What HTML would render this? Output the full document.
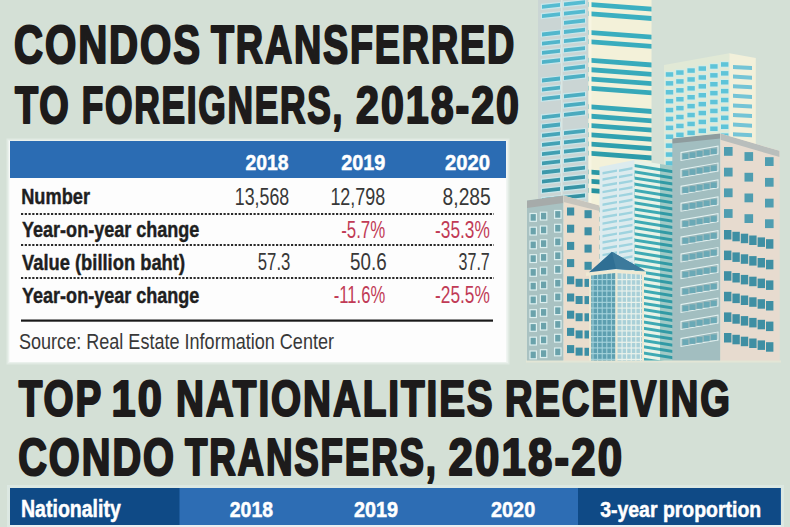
<!DOCTYPE html>
<html><head><meta charset="utf-8">
<style>
html,body{margin:0;padding:0;width:790px;height:527px;overflow:hidden;background:#d4e0d6;}
svg{display:block;}
text{font-family:"Liberation Sans",sans-serif;}
</style></head>
<body>
<svg width="790" height="527" viewBox="0 0 790 527">
<rect x="0" y="0" width="790" height="527" fill="#d4e0d6"/>
<defs><linearGradient id="gA" gradientUnits="userSpaceOnUse" x1="0" y1="0" x2="0" y2="220"><stop offset="0" stop-color="#55bcd2"/><stop offset="0.55" stop-color="#4aa9bd"/><stop offset="1" stop-color="#2f8a9a"/></linearGradient><linearGradient id="gAR" gradientUnits="userSpaceOnUse" x1="0" y1="0" x2="0" y2="200"><stop offset="0" stop-color="#3cb0c2"/><stop offset="0.6" stop-color="#35a6b6"/><stop offset="1" stop-color="#23909c"/></linearGradient><clipPath id="c1"><polygon points="538.0,-5.0 588.5,-5.0 588.5,362.0 538.0,362.0"/></clipPath><clipPath id="c2"><polygon points="588.5,-5.0 651.5,-5.0 651.5,362.0 588.5,362.0"/></clipPath><clipPath id="c3"><polygon points="664.0,65.0 729.3,53.3 729.3,362.0 664.0,362.0"/></clipPath><clipPath id="c4"><polygon points="729.3,53.3 755.8,58.0 755.8,362.0 729.3,362.0"/></clipPath><clipPath id="c5"><polygon points="599.5,167.0 634.6,160.0 634.6,362.0 599.5,362.0"/></clipPath><clipPath id="c6"><polygon points="634.6,160.0 673.0,166.0 673.0,362.0 634.6,362.0"/></clipPath><clipPath id="c7"><polygon points="672.3,138.5 720.4,133.6 720.4,361.5 672.3,361.5"/></clipPath><clipPath id="c8"><polygon points="720.4,133.6 779.6,150.8 779.6,361.5 720.4,361.5"/></clipPath><clipPath id="c9"><polygon points="527.0,200.6 563.5,195.5 563.5,361.5 527.0,361.5"/></clipPath><clipPath id="c10"><polygon points="563.5,195.5 599.5,205.4 599.5,361.5 563.5,361.5"/></clipPath><clipPath id="c11"><polygon points="589.0,274.5 615.5,272.0 615.5,361.0 589.0,361.0"/></clipPath><clipPath id="c12"><polygon points="615.5,272.0 644.0,274.0 644.0,361.0 615.5,361.0"/></clipPath></defs><polygon points="538.0,-5.0 588.5,-5.0 588.5,362.0 538.0,362.0" fill="#cad5d4"/>
<g clip-path="url(#c1)"><polygon points="540.8,3.8 561.2,1.8 561.2,8.0 540.8,10.0" fill="#c8e6ea"/><polygon points="542.0,5.0 560.0,3.0 560.0,6.8 542.0,8.8" fill="url(#gA)"/><polygon points="540.8,13.0 561.2,11.0 561.2,17.2 540.8,19.2" fill="#c8e6ea"/><polygon points="542.0,14.2 560.0,12.2 560.0,16.0 542.0,18.0" fill="url(#gA)"/><polygon points="540.8,31.4 561.2,29.4 561.2,35.6 540.8,37.6" fill="#c8e6ea"/><polygon points="542.0,32.6 560.0,30.6 560.0,34.4 542.0,36.4" fill="url(#gA)"/><polygon points="540.8,40.6 561.2,38.6 561.2,44.8 540.8,46.8" fill="#c8e6ea"/><polygon points="542.0,41.8 560.0,39.8 560.0,43.6 542.0,45.6" fill="url(#gA)"/><polygon points="540.8,49.8 561.2,47.8 561.2,54.0 540.8,56.0" fill="#c8e6ea"/><polygon points="542.0,51.0 560.0,49.0 560.0,52.8 542.0,54.8" fill="url(#gA)"/><polygon points="540.8,59.0 561.2,57.0 561.2,63.2 540.8,65.2" fill="#c8e6ea"/><polygon points="542.0,60.2 560.0,58.2 560.0,62.0 542.0,64.0" fill="url(#gA)"/><polygon points="540.8,77.4 561.2,75.4 561.2,81.6 540.8,83.6" fill="#c8e6ea"/><polygon points="542.0,78.6 560.0,76.6 560.0,80.4 542.0,82.4" fill="url(#gA)"/><polygon points="540.8,86.6 561.2,84.6 561.2,90.8 540.8,92.8" fill="#c8e6ea"/><polygon points="542.0,87.8 560.0,85.8 560.0,89.6 542.0,91.6" fill="url(#gA)"/><polygon points="540.8,95.8 561.2,93.8 561.2,100.0 540.8,102.0" fill="#c8e6ea"/><polygon points="542.0,97.0 560.0,95.0 560.0,98.8 542.0,100.8" fill="url(#gA)"/><polygon points="540.8,114.2 561.2,112.2 561.2,118.4 540.8,120.4" fill="#c8e6ea"/><polygon points="542.0,115.4 560.0,113.4 560.0,117.2 542.0,119.2" fill="url(#gA)"/><polygon points="540.8,123.4 561.2,121.4 561.2,127.6 540.8,129.6" fill="#c8e6ea"/><polygon points="542.0,124.6 560.0,122.6 560.0,126.4 542.0,128.4" fill="url(#gA)"/><polygon points="540.8,132.6 561.2,130.6 561.2,136.8 540.8,138.8" fill="#c8e6ea"/><polygon points="542.0,133.8 560.0,131.8 560.0,135.6 542.0,137.6" fill="url(#gA)"/><polygon points="540.8,141.8 561.2,139.8 561.2,146.0 540.8,148.0" fill="#c8e6ea"/><polygon points="542.0,143.0 560.0,141.0 560.0,144.8 542.0,146.8" fill="url(#gA)"/><polygon points="540.8,151.0 561.2,149.0 561.2,155.2 540.8,157.2" fill="#c8e6ea"/><polygon points="542.0,152.2 560.0,150.2 560.0,154.0 542.0,156.0" fill="url(#gA)"/><polygon points="540.8,160.2 561.2,158.2 561.2,164.4 540.8,166.4" fill="#c8e6ea"/><polygon points="542.0,161.4 560.0,159.4 560.0,163.2 542.0,165.2" fill="url(#gA)"/><polygon points="540.8,169.4 561.2,167.4 561.2,173.6 540.8,175.6" fill="#c8e6ea"/><polygon points="542.0,170.6 560.0,168.6 560.0,172.4 542.0,174.4" fill="url(#gA)"/><polygon points="540.8,178.6 561.2,176.6 561.2,182.8 540.8,184.8" fill="#c8e6ea"/><polygon points="542.0,179.8 560.0,177.8 560.0,181.6 542.0,183.6" fill="url(#gA)"/><polygon points="540.8,187.8 561.2,185.8 561.2,192.0 540.8,194.0" fill="#c8e6ea"/><polygon points="542.0,189.0 560.0,187.0 560.0,190.8 542.0,192.8" fill="url(#gA)"/><polygon points="540.8,197.0 561.2,195.0 561.2,201.2 540.8,203.2" fill="#c8e6ea"/><polygon points="542.0,198.2 560.0,196.2 560.0,200.0 542.0,202.0" fill="url(#gA)"/><polygon points="540.8,206.2 561.2,204.2 561.2,210.4 540.8,212.4" fill="#c8e6ea"/><polygon points="542.0,207.4 560.0,205.4 560.0,209.2 542.0,211.2" fill="url(#gA)"/><polygon points="540.8,215.4 561.2,213.4 561.2,219.6 540.8,221.6" fill="#c8e6ea"/><polygon points="542.0,216.6 560.0,214.6 560.0,218.4 542.0,220.4" fill="url(#gA)"/><polygon points="540.8,224.6 561.2,222.6 561.2,228.8 540.8,230.8" fill="#c8e6ea"/><polygon points="542.0,225.8 560.0,223.8 560.0,227.6 542.0,229.6" fill="url(#gA)"/><polygon points="540.8,233.8 561.2,231.8 561.2,238.0 540.8,240.0" fill="#c8e6ea"/><polygon points="542.0,235.0 560.0,233.0 560.0,236.8 542.0,238.8" fill="url(#gA)"/><polygon points="540.8,243.0 561.2,241.0 561.2,247.2 540.8,249.2" fill="#c8e6ea"/><polygon points="542.0,244.2 560.0,242.2 560.0,246.0 542.0,248.0" fill="url(#gA)"/><polygon points="540.8,252.2 561.2,250.2 561.2,256.4 540.8,258.4" fill="#c8e6ea"/><polygon points="542.0,253.4 560.0,251.4 560.0,255.2 542.0,257.2" fill="url(#gA)"/><polygon points="540.8,261.4 561.2,259.4 561.2,265.6 540.8,267.6" fill="#c8e6ea"/><polygon points="542.0,262.6 560.0,260.6 560.0,264.4 542.0,266.4" fill="url(#gA)"/><polygon points="540.8,270.6 561.2,268.6 561.2,274.8 540.8,276.8" fill="#c8e6ea"/><polygon points="542.0,271.8 560.0,269.8 560.0,273.6 542.0,275.6" fill="url(#gA)"/><polygon points="540.8,279.8 561.2,277.8 561.2,284.0 540.8,286.0" fill="#c8e6ea"/><polygon points="542.0,281.0 560.0,279.0 560.0,282.8 542.0,284.8" fill="url(#gA)"/><polygon points="540.8,289.0 561.2,287.0 561.2,293.2 540.8,295.2" fill="#c8e6ea"/><polygon points="542.0,290.2 560.0,288.2 560.0,292.0 542.0,294.0" fill="url(#gA)"/><polygon points="540.8,298.2 561.2,296.2 561.2,302.4 540.8,304.4" fill="#c8e6ea"/><polygon points="542.0,299.4 560.0,297.4 560.0,301.2 542.0,303.2" fill="url(#gA)"/><polygon points="540.8,307.4 561.2,305.4 561.2,311.6 540.8,313.6" fill="#c8e6ea"/><polygon points="542.0,308.6 560.0,306.6 560.0,310.4 542.0,312.4" fill="url(#gA)"/><polygon points="540.8,316.6 561.2,314.6 561.2,320.8 540.8,322.8" fill="#c8e6ea"/><polygon points="542.0,317.8 560.0,315.8 560.0,319.6 542.0,321.6" fill="url(#gA)"/><polygon points="540.8,325.8 561.2,323.8 561.2,330.0 540.8,332.0" fill="#c8e6ea"/><polygon points="542.0,327.0 560.0,325.0 560.0,328.8 542.0,330.8" fill="url(#gA)"/><polygon points="540.8,335.0 561.2,333.0 561.2,339.2 540.8,341.2" fill="#c8e6ea"/><polygon points="542.0,336.2 560.0,334.2 560.0,338.0 542.0,340.0" fill="url(#gA)"/><polygon points="540.8,344.2 561.2,342.2 561.2,348.4 540.8,350.4" fill="#c8e6ea"/><polygon points="542.0,345.4 560.0,343.4 560.0,347.2 542.0,349.2" fill="url(#gA)"/><polygon points="540.8,353.4 561.2,351.4 561.2,357.6 540.8,359.6" fill="#c8e6ea"/><polygon points="542.0,354.6 560.0,352.6 560.0,356.4 542.0,358.4" fill="url(#gA)"/><polygon points="540.8,362.6 561.2,360.6 561.2,366.8 540.8,368.8" fill="#c8e6ea"/><polygon points="542.0,363.8 560.0,361.8 560.0,365.6 542.0,367.6" fill="url(#gA)"/><polygon points="562.8,1.3 586.2,-1.0 586.2,5.2 562.8,7.5" fill="#c8e6ea"/><polygon points="564.0,2.5 585.0,0.2 585.0,4.0 564.0,6.3" fill="url(#gA)"/><polygon points="562.8,10.5 586.2,8.2 586.2,14.4 562.8,16.7" fill="#c8e6ea"/><polygon points="564.0,11.7 585.0,9.4 585.0,13.2 564.0,15.5" fill="url(#gA)"/><polygon points="562.8,19.7 586.2,17.4 586.2,23.6 562.8,25.9" fill="#c8e6ea"/><polygon points="564.0,20.9 585.0,18.6 585.0,22.4 564.0,24.7" fill="url(#gA)"/><polygon points="562.8,28.9 586.2,26.6 586.2,32.8 562.8,35.1" fill="#c8e6ea"/><polygon points="564.0,30.1 585.0,27.8 585.0,31.6 564.0,33.9" fill="url(#gA)"/><polygon points="562.8,38.1 586.2,35.8 586.2,42.0 562.8,44.3" fill="#c8e6ea"/><polygon points="564.0,39.3 585.0,37.0 585.0,40.8 564.0,43.1" fill="url(#gA)"/><polygon points="562.8,47.3 586.2,45.0 586.2,51.2 562.8,53.5" fill="#c8e6ea"/><polygon points="564.0,48.5 585.0,46.2 585.0,50.0 564.0,52.3" fill="url(#gA)"/><polygon points="562.8,56.5 586.2,54.2 586.2,60.4 562.8,62.7" fill="#c8e6ea"/><polygon points="564.0,57.7 585.0,55.4 585.0,59.2 564.0,61.5" fill="url(#gA)"/><polygon points="562.8,65.7 586.2,63.4 586.2,69.6 562.8,71.9" fill="#c8e6ea"/><polygon points="564.0,66.9 585.0,64.6 585.0,68.4 564.0,70.7" fill="url(#gA)"/><polygon points="562.8,74.9 586.2,72.6 586.2,78.8 562.8,81.1" fill="#c8e6ea"/><polygon points="564.0,76.1 585.0,73.8 585.0,77.6 564.0,79.9" fill="url(#gA)"/><polygon points="562.8,93.3 586.2,91.0 586.2,97.2 562.8,99.5" fill="#c8e6ea"/><polygon points="564.0,94.5 585.0,92.2 585.0,96.0 564.0,98.3" fill="url(#gA)"/><polygon points="562.8,102.5 586.2,100.2 586.2,106.4 562.8,108.7" fill="#c8e6ea"/><polygon points="564.0,103.7 585.0,101.4 585.0,105.2 564.0,107.5" fill="url(#gA)"/><polygon points="562.8,111.7 586.2,109.4 586.2,115.6 562.8,117.9" fill="#c8e6ea"/><polygon points="564.0,112.9 585.0,110.6 585.0,114.4 564.0,116.7" fill="url(#gA)"/><polygon points="562.8,130.1 586.2,127.8 586.2,134.0 562.8,136.3" fill="#c8e6ea"/><polygon points="564.0,131.3 585.0,129.0 585.0,132.8 564.0,135.1" fill="url(#gA)"/><polygon points="562.8,139.3 586.2,137.0 586.2,143.2 562.8,145.5" fill="#c8e6ea"/><polygon points="564.0,140.5 585.0,138.2 585.0,142.0 564.0,144.3" fill="url(#gA)"/><polygon points="562.8,148.5 586.2,146.2 586.2,152.4 562.8,154.7" fill="#c8e6ea"/><polygon points="564.0,149.7 585.0,147.4 585.0,151.2 564.0,153.5" fill="url(#gA)"/><polygon points="562.8,157.7 586.2,155.4 586.2,161.6 562.8,163.9" fill="#c8e6ea"/><polygon points="564.0,158.9 585.0,156.6 585.0,160.4 564.0,162.7" fill="url(#gA)"/><polygon points="562.8,166.9 586.2,164.6 586.2,170.8 562.8,173.1" fill="#c8e6ea"/><polygon points="564.0,168.1 585.0,165.8 585.0,169.6 564.0,171.9" fill="url(#gA)"/><polygon points="562.8,176.1 586.2,173.8 586.2,180.0 562.8,182.3" fill="#c8e6ea"/><polygon points="564.0,177.3 585.0,175.0 585.0,178.8 564.0,181.1" fill="url(#gA)"/><polygon points="562.8,185.3 586.2,183.0 586.2,189.2 562.8,191.5" fill="#c8e6ea"/><polygon points="564.0,186.5 585.0,184.2 585.0,188.0 564.0,190.3" fill="url(#gA)"/><polygon points="562.8,194.5 586.2,192.2 586.2,198.4 562.8,200.7" fill="#c8e6ea"/><polygon points="564.0,195.7 585.0,193.4 585.0,197.2 564.0,199.5" fill="url(#gA)"/><polygon points="562.8,203.7 586.2,201.4 586.2,207.6 562.8,209.9" fill="#c8e6ea"/><polygon points="564.0,204.9 585.0,202.6 585.0,206.4 564.0,208.7" fill="url(#gA)"/><polygon points="562.8,212.9 586.2,210.6 586.2,216.8 562.8,219.1" fill="#c8e6ea"/><polygon points="564.0,214.1 585.0,211.8 585.0,215.6 564.0,217.9" fill="url(#gA)"/><polygon points="562.8,222.1 586.2,219.8 586.2,226.0 562.8,228.3" fill="#c8e6ea"/><polygon points="564.0,223.3 585.0,221.0 585.0,224.8 564.0,227.1" fill="url(#gA)"/><polygon points="562.8,231.3 586.2,229.0 586.2,235.2 562.8,237.5" fill="#c8e6ea"/><polygon points="564.0,232.5 585.0,230.2 585.0,234.0 564.0,236.3" fill="url(#gA)"/><polygon points="562.8,240.5 586.2,238.2 586.2,244.4 562.8,246.7" fill="#c8e6ea"/><polygon points="564.0,241.7 585.0,239.4 585.0,243.2 564.0,245.5" fill="url(#gA)"/><polygon points="562.8,249.7 586.2,247.4 586.2,253.6 562.8,255.9" fill="#c8e6ea"/><polygon points="564.0,250.9 585.0,248.6 585.0,252.4 564.0,254.7" fill="url(#gA)"/><polygon points="562.8,258.9 586.2,256.6 586.2,262.8 562.8,265.1" fill="#c8e6ea"/><polygon points="564.0,260.1 585.0,257.8 585.0,261.6 564.0,263.9" fill="url(#gA)"/><polygon points="562.8,268.1 586.2,265.8 586.2,272.0 562.8,274.3" fill="#c8e6ea"/><polygon points="564.0,269.3 585.0,267.0 585.0,270.8 564.0,273.1" fill="url(#gA)"/><polygon points="562.8,277.3 586.2,275.0 586.2,281.2 562.8,283.5" fill="#c8e6ea"/><polygon points="564.0,278.5 585.0,276.2 585.0,280.0 564.0,282.3" fill="url(#gA)"/><polygon points="562.8,286.5 586.2,284.2 586.2,290.4 562.8,292.7" fill="#c8e6ea"/><polygon points="564.0,287.7 585.0,285.4 585.0,289.2 564.0,291.5" fill="url(#gA)"/><polygon points="562.8,295.7 586.2,293.4 586.2,299.6 562.8,301.9" fill="#c8e6ea"/><polygon points="564.0,296.9 585.0,294.6 585.0,298.4 564.0,300.7" fill="url(#gA)"/><polygon points="562.8,304.9 586.2,302.6 586.2,308.8 562.8,311.1" fill="#c8e6ea"/><polygon points="564.0,306.1 585.0,303.8 585.0,307.6 564.0,309.9" fill="url(#gA)"/><polygon points="562.8,314.1 586.2,311.8 586.2,318.0 562.8,320.3" fill="#c8e6ea"/><polygon points="564.0,315.3 585.0,313.0 585.0,316.8 564.0,319.1" fill="url(#gA)"/><polygon points="562.8,323.3 586.2,321.0 586.2,327.2 562.8,329.5" fill="#c8e6ea"/><polygon points="564.0,324.5 585.0,322.2 585.0,326.0 564.0,328.3" fill="url(#gA)"/><polygon points="562.8,332.5 586.2,330.2 586.2,336.4 562.8,338.7" fill="#c8e6ea"/><polygon points="564.0,333.7 585.0,331.4 585.0,335.2 564.0,337.5" fill="url(#gA)"/><polygon points="562.8,341.7 586.2,339.4 586.2,345.6 562.8,347.9" fill="#c8e6ea"/><polygon points="564.0,342.9 585.0,340.6 585.0,344.4 564.0,346.7" fill="url(#gA)"/><polygon points="562.8,350.9 586.2,348.6 586.2,354.8 562.8,357.1" fill="#c8e6ea"/><polygon points="564.0,352.1 585.0,349.8 585.0,353.6 564.0,355.9" fill="url(#gA)"/><polygon points="562.8,360.1 586.2,357.8 586.2,364.0 562.8,366.3" fill="#c8e6ea"/><polygon points="564.0,361.3 585.0,359.0 585.0,362.8 564.0,365.1" fill="url(#gA)"/><rect x="561" y="-5" width="1.5" height="370" fill="#d9e6e2"/></g>
<polygon points="588.5,-5.0 651.5,-5.0 651.5,362.0 588.5,362.0" fill="#f3f1d9"/>
<g clip-path="url(#c2)"><polygon points="588.0,2.0 652.0,6.8 652.0,11.6 588.0,6.8" fill="url(#gAR)"/><polygon points="588.0,11.3 652.0,16.1 652.0,20.9 588.0,16.1" fill="url(#gAR)"/><polygon points="588.0,29.9 652.0,34.7 652.0,39.5 588.0,34.7" fill="url(#gAR)"/><polygon points="588.0,39.2 652.0,44.0 652.0,48.8 588.0,44.0" fill="url(#gAR)"/><polygon points="588.0,57.8 652.0,62.6 652.0,67.4 588.0,62.6" fill="url(#gAR)"/><polygon points="588.0,67.1 652.0,71.9 652.0,76.7 588.0,71.9" fill="url(#gAR)"/><polygon points="588.0,76.4 652.0,81.2 652.0,86.0 588.0,81.2" fill="url(#gAR)"/><polygon points="588.0,85.7 652.0,90.5 652.0,95.3 588.0,90.5" fill="url(#gAR)"/><polygon points="588.0,104.3 652.0,109.1 652.0,113.9 588.0,109.1" fill="url(#gAR)"/><polygon points="588.0,113.6 652.0,118.4 652.0,123.2 588.0,118.4" fill="url(#gAR)"/><polygon points="588.0,122.9 652.0,127.7 652.0,132.5 588.0,127.7" fill="url(#gAR)"/><polygon points="588.0,132.2 652.0,137.0 652.0,141.8 588.0,137.0" fill="url(#gAR)"/><polygon points="588.0,141.5 652.0,146.3 652.0,151.1 588.0,146.3" fill="url(#gAR)"/><polygon points="588.0,150.8 652.0,155.6 652.0,160.4 588.0,155.6" fill="url(#gAR)"/><polygon points="588.0,169.4 652.0,174.2 652.0,179.0 588.0,174.2" fill="url(#gAR)"/><polygon points="588.0,178.7 652.0,183.5 652.0,188.3 588.0,183.5" fill="url(#gAR)"/><polygon points="588.0,188.0 652.0,192.8 652.0,197.6 588.0,192.8" fill="url(#gAR)"/><polygon points="588.0,206.6 652.0,211.4 652.0,216.2 588.0,211.4" fill="url(#gAR)"/><polygon points="588.0,215.9 652.0,220.7 652.0,225.5 588.0,220.7" fill="url(#gAR)"/><polygon points="588.0,225.2 652.0,230.0 652.0,234.8 588.0,230.0" fill="url(#gAR)"/><polygon points="588.0,234.5 652.0,239.3 652.0,244.1 588.0,239.3" fill="url(#gAR)"/><polygon points="588.0,243.8 652.0,248.6 652.0,253.4 588.0,248.6" fill="url(#gAR)"/><polygon points="588.0,253.1 652.0,257.9 652.0,262.7 588.0,257.9" fill="url(#gAR)"/><polygon points="588.0,262.4 652.0,267.2 652.0,272.0 588.0,267.2" fill="url(#gAR)"/><polygon points="588.0,271.7 652.0,276.5 652.0,281.3 588.0,276.5" fill="url(#gAR)"/><polygon points="588.0,281.0 652.0,285.8 652.0,290.6 588.0,285.8" fill="url(#gAR)"/><polygon points="588.0,290.3 652.0,295.1 652.0,299.9 588.0,295.1" fill="url(#gAR)"/><polygon points="588.0,299.6 652.0,304.4 652.0,309.2 588.0,304.4" fill="url(#gAR)"/><polygon points="588.0,308.9 652.0,313.7 652.0,318.5 588.0,313.7" fill="url(#gAR)"/><polygon points="588.0,318.2 652.0,323.0 652.0,327.8 588.0,323.0" fill="url(#gAR)"/><polygon points="588.0,327.5 652.0,332.3 652.0,337.1 588.0,332.3" fill="url(#gAR)"/><polygon points="588.0,336.8 652.0,341.6 652.0,346.4 588.0,341.6" fill="url(#gAR)"/><polygon points="588.0,346.1 652.0,350.9 652.0,355.7 588.0,350.9" fill="url(#gAR)"/><polygon points="588.0,355.4 652.0,360.2 652.0,365.0 588.0,360.2" fill="url(#gAR)"/><polygon points="588.0,364.7 652.0,369.5 652.0,374.3 588.0,369.5" fill="url(#gAR)"/><rect x="588.5" y="-5" width="3" height="370" fill="#f7f5e2"/></g>
<polygon points="664.0,65.0 729.3,53.3 729.3,362.0 664.0,362.0" fill="#e1e9d6"/>
<g clip-path="url(#c3)"><rect x="664.7" y="71.1" width="9.6" height="6.7" fill="#d3ece6"/><rect x="665.8" y="72.2" width="7.4" height="4.5" fill="#5ec4d9"/><rect x="675.1" y="69.2" width="9.6" height="6.7" fill="#d3ece6"/><rect x="676.2" y="70.3" width="7.4" height="4.5" fill="#5ec4d9"/><rect x="686.3" y="67.2" width="9.6" height="6.7" fill="#d3ece6"/><rect x="687.4" y="68.3" width="7.4" height="4.5" fill="#5ec4d9"/><rect x="697.5" y="65.2" width="9.6" height="6.7" fill="#d3ece6"/><rect x="698.6" y="66.3" width="7.4" height="4.5" fill="#5ec4d9"/><rect x="709.1" y="63.1" width="9.6" height="6.7" fill="#d3ece6"/><rect x="710.2" y="64.2" width="7.4" height="4.5" fill="#5ec4d9"/><rect x="719.9" y="61.1" width="9.6" height="6.7" fill="#d3ece6"/><rect x="721.0" y="62.2" width="7.4" height="4.5" fill="#5ec4d9"/><rect x="664.7" y="80.0" width="9.6" height="6.7" fill="#d3ece6"/><rect x="665.8" y="81.1" width="7.4" height="4.5" fill="#5ec4d9"/><rect x="675.1" y="78.1" width="9.6" height="6.7" fill="#d3ece6"/><rect x="676.2" y="79.2" width="7.4" height="4.5" fill="#5ec4d9"/><rect x="686.3" y="76.1" width="9.6" height="6.7" fill="#d3ece6"/><rect x="687.4" y="77.2" width="7.4" height="4.5" fill="#5ec4d9"/><rect x="697.5" y="74.1" width="9.6" height="6.7" fill="#d3ece6"/><rect x="698.6" y="75.2" width="7.4" height="4.5" fill="#5ec4d9"/><rect x="709.1" y="72.0" width="9.6" height="6.7" fill="#d3ece6"/><rect x="710.2" y="73.1" width="7.4" height="4.5" fill="#5ec4d9"/><rect x="719.9" y="70.0" width="9.6" height="6.7" fill="#d3ece6"/><rect x="721.0" y="71.1" width="7.4" height="4.5" fill="#5ec4d9"/><rect x="664.7" y="88.9" width="9.6" height="6.7" fill="#d3ece6"/><rect x="665.8" y="90.0" width="7.4" height="4.5" fill="#5ec4d9"/><rect x="675.1" y="87.0" width="9.6" height="6.7" fill="#d3ece6"/><rect x="676.2" y="88.1" width="7.4" height="4.5" fill="#5ec4d9"/><rect x="686.3" y="85.0" width="9.6" height="6.7" fill="#d3ece6"/><rect x="687.4" y="86.1" width="7.4" height="4.5" fill="#5ec4d9"/><rect x="697.5" y="83.0" width="9.6" height="6.7" fill="#d3ece6"/><rect x="698.6" y="84.1" width="7.4" height="4.5" fill="#5ec4d9"/><rect x="709.1" y="80.9" width="9.6" height="6.7" fill="#d3ece6"/><rect x="710.2" y="82.0" width="7.4" height="4.5" fill="#5ec4d9"/><rect x="719.9" y="78.9" width="9.6" height="6.7" fill="#d3ece6"/><rect x="721.0" y="80.0" width="7.4" height="4.5" fill="#5ec4d9"/><rect x="664.7" y="97.8" width="9.6" height="6.7" fill="#d3ece6"/><rect x="665.8" y="98.9" width="7.4" height="4.5" fill="#5ec4d9"/><rect x="675.1" y="95.9" width="9.6" height="6.7" fill="#d3ece6"/><rect x="676.2" y="97.0" width="7.4" height="4.5" fill="#5ec4d9"/><rect x="686.3" y="93.9" width="9.6" height="6.7" fill="#d3ece6"/><rect x="687.4" y="95.0" width="7.4" height="4.5" fill="#5ec4d9"/><rect x="697.5" y="91.9" width="9.6" height="6.7" fill="#d3ece6"/><rect x="698.6" y="93.0" width="7.4" height="4.5" fill="#5ec4d9"/><rect x="709.1" y="89.8" width="9.6" height="6.7" fill="#d3ece6"/><rect x="710.2" y="90.9" width="7.4" height="4.5" fill="#5ec4d9"/><rect x="719.9" y="87.8" width="9.6" height="6.7" fill="#d3ece6"/><rect x="721.0" y="88.9" width="7.4" height="4.5" fill="#5ec4d9"/><rect x="664.7" y="106.7" width="9.6" height="6.7" fill="#d3ece6"/><rect x="665.8" y="107.8" width="7.4" height="4.5" fill="#5ec4d9"/><rect x="675.1" y="104.8" width="9.6" height="6.7" fill="#d3ece6"/><rect x="676.2" y="105.9" width="7.4" height="4.5" fill="#5ec4d9"/><rect x="686.3" y="102.8" width="9.6" height="6.7" fill="#d3ece6"/><rect x="687.4" y="103.9" width="7.4" height="4.5" fill="#5ec4d9"/><rect x="697.5" y="100.8" width="9.6" height="6.7" fill="#d3ece6"/><rect x="698.6" y="101.9" width="7.4" height="4.5" fill="#5ec4d9"/><rect x="709.1" y="98.7" width="9.6" height="6.7" fill="#d3ece6"/><rect x="710.2" y="99.8" width="7.4" height="4.5" fill="#5ec4d9"/><rect x="719.9" y="96.7" width="9.6" height="6.7" fill="#d3ece6"/><rect x="721.0" y="97.8" width="7.4" height="4.5" fill="#5ec4d9"/><rect x="664.7" y="115.6" width="9.6" height="6.7" fill="#d3ece6"/><rect x="665.8" y="116.7" width="7.4" height="4.5" fill="#5ec4d9"/><rect x="675.1" y="113.7" width="9.6" height="6.7" fill="#d3ece6"/><rect x="676.2" y="114.8" width="7.4" height="4.5" fill="#5ec4d9"/><rect x="686.3" y="111.7" width="9.6" height="6.7" fill="#d3ece6"/><rect x="687.4" y="112.8" width="7.4" height="4.5" fill="#5ec4d9"/><rect x="697.5" y="109.7" width="9.6" height="6.7" fill="#d3ece6"/><rect x="698.6" y="110.8" width="7.4" height="4.5" fill="#5ec4d9"/><rect x="709.1" y="107.6" width="9.6" height="6.7" fill="#d3ece6"/><rect x="710.2" y="108.7" width="7.4" height="4.5" fill="#5ec4d9"/><rect x="719.9" y="105.6" width="9.6" height="6.7" fill="#d3ece6"/><rect x="721.0" y="106.7" width="7.4" height="4.5" fill="#5ec4d9"/><rect x="664.7" y="124.5" width="9.6" height="6.7" fill="#d3ece6"/><rect x="665.8" y="125.6" width="7.4" height="4.5" fill="#5ec4d9"/><rect x="675.1" y="122.6" width="9.6" height="6.7" fill="#d3ece6"/><rect x="676.2" y="123.7" width="7.4" height="4.5" fill="#5ec4d9"/><rect x="686.3" y="120.6" width="9.6" height="6.7" fill="#d3ece6"/><rect x="687.4" y="121.7" width="7.4" height="4.5" fill="#5ec4d9"/><rect x="697.5" y="118.6" width="9.6" height="6.7" fill="#d3ece6"/><rect x="698.6" y="119.7" width="7.4" height="4.5" fill="#5ec4d9"/><rect x="709.1" y="116.5" width="9.6" height="6.7" fill="#d3ece6"/><rect x="710.2" y="117.6" width="7.4" height="4.5" fill="#5ec4d9"/><rect x="719.9" y="114.5" width="9.6" height="6.7" fill="#d3ece6"/><rect x="721.0" y="115.6" width="7.4" height="4.5" fill="#5ec4d9"/><rect x="664.7" y="133.4" width="9.6" height="6.7" fill="#d3ece6"/><rect x="665.8" y="134.5" width="7.4" height="4.5" fill="#5ec4d9"/><rect x="675.1" y="131.5" width="9.6" height="6.7" fill="#d3ece6"/><rect x="676.2" y="132.6" width="7.4" height="4.5" fill="#5ec4d9"/><rect x="686.3" y="129.5" width="9.6" height="6.7" fill="#d3ece6"/><rect x="687.4" y="130.6" width="7.4" height="4.5" fill="#5ec4d9"/><rect x="697.5" y="127.5" width="9.6" height="6.7" fill="#d3ece6"/><rect x="698.6" y="128.6" width="7.4" height="4.5" fill="#5ec4d9"/><rect x="709.1" y="125.4" width="9.6" height="6.7" fill="#d3ece6"/><rect x="710.2" y="126.5" width="7.4" height="4.5" fill="#5ec4d9"/><rect x="719.9" y="123.4" width="9.6" height="6.7" fill="#d3ece6"/><rect x="721.0" y="124.5" width="7.4" height="4.5" fill="#5ec4d9"/><rect x="664.7" y="142.3" width="9.6" height="6.7" fill="#d3ece6"/><rect x="665.8" y="143.4" width="7.4" height="4.5" fill="#5ec4d9"/><rect x="675.1" y="140.4" width="9.6" height="6.7" fill="#d3ece6"/><rect x="676.2" y="141.5" width="7.4" height="4.5" fill="#5ec4d9"/><rect x="686.3" y="138.4" width="9.6" height="6.7" fill="#d3ece6"/><rect x="687.4" y="139.5" width="7.4" height="4.5" fill="#5ec4d9"/><rect x="697.5" y="136.4" width="9.6" height="6.7" fill="#d3ece6"/><rect x="698.6" y="137.5" width="7.4" height="4.5" fill="#5ec4d9"/><rect x="709.1" y="134.3" width="9.6" height="6.7" fill="#d3ece6"/><rect x="710.2" y="135.4" width="7.4" height="4.5" fill="#5ec4d9"/><rect x="719.9" y="132.3" width="9.6" height="6.7" fill="#d3ece6"/><rect x="721.0" y="133.4" width="7.4" height="4.5" fill="#5ec4d9"/><rect x="664.7" y="151.2" width="9.6" height="6.7" fill="#d3ece6"/><rect x="665.8" y="152.3" width="7.4" height="4.5" fill="#5ec4d9"/><rect x="675.1" y="149.3" width="9.6" height="6.7" fill="#d3ece6"/><rect x="676.2" y="150.4" width="7.4" height="4.5" fill="#5ec4d9"/><rect x="686.3" y="147.3" width="9.6" height="6.7" fill="#d3ece6"/><rect x="687.4" y="148.4" width="7.4" height="4.5" fill="#5ec4d9"/><rect x="697.5" y="145.3" width="9.6" height="6.7" fill="#d3ece6"/><rect x="698.6" y="146.4" width="7.4" height="4.5" fill="#5ec4d9"/><rect x="709.1" y="143.2" width="9.6" height="6.7" fill="#d3ece6"/><rect x="710.2" y="144.3" width="7.4" height="4.5" fill="#5ec4d9"/><rect x="719.9" y="141.2" width="9.6" height="6.7" fill="#d3ece6"/><rect x="721.0" y="142.3" width="7.4" height="4.5" fill="#5ec4d9"/><rect x="664.7" y="160.1" width="9.6" height="6.7" fill="#d3ece6"/><rect x="665.8" y="161.2" width="7.4" height="4.5" fill="#5ec4d9"/><rect x="675.1" y="158.2" width="9.6" height="6.7" fill="#d3ece6"/><rect x="676.2" y="159.3" width="7.4" height="4.5" fill="#5ec4d9"/><rect x="686.3" y="156.2" width="9.6" height="6.7" fill="#d3ece6"/><rect x="687.4" y="157.3" width="7.4" height="4.5" fill="#5ec4d9"/><rect x="697.5" y="154.2" width="9.6" height="6.7" fill="#d3ece6"/><rect x="698.6" y="155.3" width="7.4" height="4.5" fill="#5ec4d9"/><rect x="709.1" y="152.1" width="9.6" height="6.7" fill="#d3ece6"/><rect x="710.2" y="153.2" width="7.4" height="4.5" fill="#5ec4d9"/><rect x="719.9" y="150.1" width="9.6" height="6.7" fill="#d3ece6"/><rect x="721.0" y="151.2" width="7.4" height="4.5" fill="#5ec4d9"/><rect x="664.7" y="169.0" width="9.6" height="6.7" fill="#d3ece6"/><rect x="665.8" y="170.1" width="7.4" height="4.5" fill="#5ec4d9"/><rect x="675.1" y="167.1" width="9.6" height="6.7" fill="#d3ece6"/><rect x="676.2" y="168.2" width="7.4" height="4.5" fill="#5ec4d9"/><rect x="686.3" y="165.1" width="9.6" height="6.7" fill="#d3ece6"/><rect x="687.4" y="166.2" width="7.4" height="4.5" fill="#5ec4d9"/><rect x="697.5" y="163.1" width="9.6" height="6.7" fill="#d3ece6"/><rect x="698.6" y="164.2" width="7.4" height="4.5" fill="#5ec4d9"/><rect x="709.1" y="161.0" width="9.6" height="6.7" fill="#d3ece6"/><rect x="710.2" y="162.1" width="7.4" height="4.5" fill="#5ec4d9"/><rect x="719.9" y="159.0" width="9.6" height="6.7" fill="#d3ece6"/><rect x="721.0" y="160.1" width="7.4" height="4.5" fill="#5ec4d9"/><rect x="664.7" y="177.9" width="9.6" height="6.7" fill="#d3ece6"/><rect x="665.8" y="179.0" width="7.4" height="4.5" fill="#5ec4d9"/><rect x="675.1" y="176.0" width="9.6" height="6.7" fill="#d3ece6"/><rect x="676.2" y="177.1" width="7.4" height="4.5" fill="#5ec4d9"/><rect x="686.3" y="174.0" width="9.6" height="6.7" fill="#d3ece6"/><rect x="687.4" y="175.1" width="7.4" height="4.5" fill="#5ec4d9"/><rect x="697.5" y="172.0" width="9.6" height="6.7" fill="#d3ece6"/><rect x="698.6" y="173.1" width="7.4" height="4.5" fill="#5ec4d9"/><rect x="709.1" y="169.9" width="9.6" height="6.7" fill="#d3ece6"/><rect x="710.2" y="171.0" width="7.4" height="4.5" fill="#5ec4d9"/><rect x="719.9" y="167.9" width="9.6" height="6.7" fill="#d3ece6"/><rect x="721.0" y="169.0" width="7.4" height="4.5" fill="#5ec4d9"/><rect x="664.7" y="186.8" width="9.6" height="6.7" fill="#d3ece6"/><rect x="665.8" y="187.9" width="7.4" height="4.5" fill="#5ec4d9"/><rect x="675.1" y="184.9" width="9.6" height="6.7" fill="#d3ece6"/><rect x="676.2" y="186.0" width="7.4" height="4.5" fill="#5ec4d9"/><rect x="686.3" y="182.9" width="9.6" height="6.7" fill="#d3ece6"/><rect x="687.4" y="184.0" width="7.4" height="4.5" fill="#5ec4d9"/><rect x="697.5" y="180.9" width="9.6" height="6.7" fill="#d3ece6"/><rect x="698.6" y="182.0" width="7.4" height="4.5" fill="#5ec4d9"/><rect x="709.1" y="178.8" width="9.6" height="6.7" fill="#d3ece6"/><rect x="710.2" y="179.9" width="7.4" height="4.5" fill="#5ec4d9"/><rect x="719.9" y="176.8" width="9.6" height="6.7" fill="#d3ece6"/><rect x="721.0" y="177.9" width="7.4" height="4.5" fill="#5ec4d9"/><rect x="664.7" y="195.7" width="9.6" height="6.7" fill="#d3ece6"/><rect x="665.8" y="196.8" width="7.4" height="4.5" fill="#5ec4d9"/><rect x="675.1" y="193.8" width="9.6" height="6.7" fill="#d3ece6"/><rect x="676.2" y="194.9" width="7.4" height="4.5" fill="#5ec4d9"/><rect x="686.3" y="191.8" width="9.6" height="6.7" fill="#d3ece6"/><rect x="687.4" y="192.9" width="7.4" height="4.5" fill="#5ec4d9"/><rect x="697.5" y="189.8" width="9.6" height="6.7" fill="#d3ece6"/><rect x="698.6" y="190.9" width="7.4" height="4.5" fill="#5ec4d9"/><rect x="709.1" y="187.7" width="9.6" height="6.7" fill="#d3ece6"/><rect x="710.2" y="188.8" width="7.4" height="4.5" fill="#5ec4d9"/><rect x="719.9" y="185.7" width="9.6" height="6.7" fill="#d3ece6"/><rect x="721.0" y="186.8" width="7.4" height="4.5" fill="#5ec4d9"/><rect x="664.7" y="204.6" width="9.6" height="6.7" fill="#d3ece6"/><rect x="665.8" y="205.7" width="7.4" height="4.5" fill="#5ec4d9"/><rect x="675.1" y="202.7" width="9.6" height="6.7" fill="#d3ece6"/><rect x="676.2" y="203.8" width="7.4" height="4.5" fill="#5ec4d9"/><rect x="686.3" y="200.7" width="9.6" height="6.7" fill="#d3ece6"/><rect x="687.4" y="201.8" width="7.4" height="4.5" fill="#5ec4d9"/><rect x="697.5" y="198.7" width="9.6" height="6.7" fill="#d3ece6"/><rect x="698.6" y="199.8" width="7.4" height="4.5" fill="#5ec4d9"/><rect x="709.1" y="196.6" width="9.6" height="6.7" fill="#d3ece6"/><rect x="710.2" y="197.7" width="7.4" height="4.5" fill="#5ec4d9"/><rect x="719.9" y="194.6" width="9.6" height="6.7" fill="#d3ece6"/><rect x="721.0" y="195.7" width="7.4" height="4.5" fill="#5ec4d9"/><rect x="664.7" y="213.5" width="9.6" height="6.7" fill="#d3ece6"/><rect x="665.8" y="214.6" width="7.4" height="4.5" fill="#5ec4d9"/><rect x="675.1" y="211.6" width="9.6" height="6.7" fill="#d3ece6"/><rect x="676.2" y="212.7" width="7.4" height="4.5" fill="#5ec4d9"/><rect x="686.3" y="209.6" width="9.6" height="6.7" fill="#d3ece6"/><rect x="687.4" y="210.7" width="7.4" height="4.5" fill="#5ec4d9"/><rect x="697.5" y="207.6" width="9.6" height="6.7" fill="#d3ece6"/><rect x="698.6" y="208.7" width="7.4" height="4.5" fill="#5ec4d9"/><rect x="709.1" y="205.5" width="9.6" height="6.7" fill="#d3ece6"/><rect x="710.2" y="206.6" width="7.4" height="4.5" fill="#5ec4d9"/><rect x="719.9" y="203.5" width="9.6" height="6.7" fill="#d3ece6"/><rect x="721.0" y="204.6" width="7.4" height="4.5" fill="#5ec4d9"/><rect x="664.7" y="222.4" width="9.6" height="6.7" fill="#d3ece6"/><rect x="665.8" y="223.5" width="7.4" height="4.5" fill="#5ec4d9"/><rect x="675.1" y="220.5" width="9.6" height="6.7" fill="#d3ece6"/><rect x="676.2" y="221.6" width="7.4" height="4.5" fill="#5ec4d9"/><rect x="686.3" y="218.5" width="9.6" height="6.7" fill="#d3ece6"/><rect x="687.4" y="219.6" width="7.4" height="4.5" fill="#5ec4d9"/><rect x="697.5" y="216.5" width="9.6" height="6.7" fill="#d3ece6"/><rect x="698.6" y="217.6" width="7.4" height="4.5" fill="#5ec4d9"/><rect x="709.1" y="214.4" width="9.6" height="6.7" fill="#d3ece6"/><rect x="710.2" y="215.5" width="7.4" height="4.5" fill="#5ec4d9"/><rect x="719.9" y="212.4" width="9.6" height="6.7" fill="#d3ece6"/><rect x="721.0" y="213.5" width="7.4" height="4.5" fill="#5ec4d9"/><rect x="664.7" y="231.3" width="9.6" height="6.7" fill="#d3ece6"/><rect x="665.8" y="232.4" width="7.4" height="4.5" fill="#5ec4d9"/><rect x="675.1" y="229.4" width="9.6" height="6.7" fill="#d3ece6"/><rect x="676.2" y="230.5" width="7.4" height="4.5" fill="#5ec4d9"/><rect x="686.3" y="227.4" width="9.6" height="6.7" fill="#d3ece6"/><rect x="687.4" y="228.5" width="7.4" height="4.5" fill="#5ec4d9"/><rect x="697.5" y="225.4" width="9.6" height="6.7" fill="#d3ece6"/><rect x="698.6" y="226.5" width="7.4" height="4.5" fill="#5ec4d9"/><rect x="709.1" y="223.3" width="9.6" height="6.7" fill="#d3ece6"/><rect x="710.2" y="224.4" width="7.4" height="4.5" fill="#5ec4d9"/><rect x="719.9" y="221.3" width="9.6" height="6.7" fill="#d3ece6"/><rect x="721.0" y="222.4" width="7.4" height="4.5" fill="#5ec4d9"/><rect x="664.7" y="240.2" width="9.6" height="6.7" fill="#d3ece6"/><rect x="665.8" y="241.3" width="7.4" height="4.5" fill="#5ec4d9"/><rect x="675.1" y="238.3" width="9.6" height="6.7" fill="#d3ece6"/><rect x="676.2" y="239.4" width="7.4" height="4.5" fill="#5ec4d9"/><rect x="686.3" y="236.3" width="9.6" height="6.7" fill="#d3ece6"/><rect x="687.4" y="237.4" width="7.4" height="4.5" fill="#5ec4d9"/><rect x="697.5" y="234.3" width="9.6" height="6.7" fill="#d3ece6"/><rect x="698.6" y="235.4" width="7.4" height="4.5" fill="#5ec4d9"/><rect x="709.1" y="232.2" width="9.6" height="6.7" fill="#d3ece6"/><rect x="710.2" y="233.3" width="7.4" height="4.5" fill="#5ec4d9"/><rect x="719.9" y="230.2" width="9.6" height="6.7" fill="#d3ece6"/><rect x="721.0" y="231.3" width="7.4" height="4.5" fill="#5ec4d9"/><rect x="664.7" y="249.1" width="9.6" height="6.7" fill="#d3ece6"/><rect x="665.8" y="250.2" width="7.4" height="4.5" fill="#5ec4d9"/><rect x="675.1" y="247.2" width="9.6" height="6.7" fill="#d3ece6"/><rect x="676.2" y="248.3" width="7.4" height="4.5" fill="#5ec4d9"/><rect x="686.3" y="245.2" width="9.6" height="6.7" fill="#d3ece6"/><rect x="687.4" y="246.3" width="7.4" height="4.5" fill="#5ec4d9"/><rect x="697.5" y="243.2" width="9.6" height="6.7" fill="#d3ece6"/><rect x="698.6" y="244.3" width="7.4" height="4.5" fill="#5ec4d9"/><rect x="709.1" y="241.1" width="9.6" height="6.7" fill="#d3ece6"/><rect x="710.2" y="242.2" width="7.4" height="4.5" fill="#5ec4d9"/><rect x="719.9" y="239.1" width="9.6" height="6.7" fill="#d3ece6"/><rect x="721.0" y="240.2" width="7.4" height="4.5" fill="#5ec4d9"/><rect x="664.7" y="258.0" width="9.6" height="6.7" fill="#d3ece6"/><rect x="665.8" y="259.1" width="7.4" height="4.5" fill="#5ec4d9"/><rect x="675.1" y="256.1" width="9.6" height="6.7" fill="#d3ece6"/><rect x="676.2" y="257.2" width="7.4" height="4.5" fill="#5ec4d9"/><rect x="686.3" y="254.1" width="9.6" height="6.7" fill="#d3ece6"/><rect x="687.4" y="255.2" width="7.4" height="4.5" fill="#5ec4d9"/><rect x="697.5" y="252.1" width="9.6" height="6.7" fill="#d3ece6"/><rect x="698.6" y="253.2" width="7.4" height="4.5" fill="#5ec4d9"/><rect x="709.1" y="250.0" width="9.6" height="6.7" fill="#d3ece6"/><rect x="710.2" y="251.1" width="7.4" height="4.5" fill="#5ec4d9"/><rect x="719.9" y="248.0" width="9.6" height="6.7" fill="#d3ece6"/><rect x="721.0" y="249.1" width="7.4" height="4.5" fill="#5ec4d9"/><rect x="664.7" y="266.9" width="9.6" height="6.7" fill="#d3ece6"/><rect x="665.8" y="268.0" width="7.4" height="4.5" fill="#5ec4d9"/><rect x="675.1" y="265.0" width="9.6" height="6.7" fill="#d3ece6"/><rect x="676.2" y="266.1" width="7.4" height="4.5" fill="#5ec4d9"/><rect x="686.3" y="263.0" width="9.6" height="6.7" fill="#d3ece6"/><rect x="687.4" y="264.1" width="7.4" height="4.5" fill="#5ec4d9"/><rect x="697.5" y="261.0" width="9.6" height="6.7" fill="#d3ece6"/><rect x="698.6" y="262.1" width="7.4" height="4.5" fill="#5ec4d9"/><rect x="709.1" y="258.9" width="9.6" height="6.7" fill="#d3ece6"/><rect x="710.2" y="260.0" width="7.4" height="4.5" fill="#5ec4d9"/><rect x="719.9" y="256.9" width="9.6" height="6.7" fill="#d3ece6"/><rect x="721.0" y="258.0" width="7.4" height="4.5" fill="#5ec4d9"/><rect x="664.7" y="275.8" width="9.6" height="6.7" fill="#d3ece6"/><rect x="665.8" y="276.9" width="7.4" height="4.5" fill="#5ec4d9"/><rect x="675.1" y="273.9" width="9.6" height="6.7" fill="#d3ece6"/><rect x="676.2" y="275.0" width="7.4" height="4.5" fill="#5ec4d9"/><rect x="686.3" y="271.9" width="9.6" height="6.7" fill="#d3ece6"/><rect x="687.4" y="273.0" width="7.4" height="4.5" fill="#5ec4d9"/><rect x="697.5" y="269.9" width="9.6" height="6.7" fill="#d3ece6"/><rect x="698.6" y="271.0" width="7.4" height="4.5" fill="#5ec4d9"/><rect x="709.1" y="267.8" width="9.6" height="6.7" fill="#d3ece6"/><rect x="710.2" y="268.9" width="7.4" height="4.5" fill="#5ec4d9"/><rect x="719.9" y="265.8" width="9.6" height="6.7" fill="#d3ece6"/><rect x="721.0" y="266.9" width="7.4" height="4.5" fill="#5ec4d9"/><rect x="664.7" y="284.7" width="9.6" height="6.7" fill="#d3ece6"/><rect x="665.8" y="285.8" width="7.4" height="4.5" fill="#5ec4d9"/><rect x="675.1" y="282.8" width="9.6" height="6.7" fill="#d3ece6"/><rect x="676.2" y="283.9" width="7.4" height="4.5" fill="#5ec4d9"/><rect x="686.3" y="280.8" width="9.6" height="6.7" fill="#d3ece6"/><rect x="687.4" y="281.9" width="7.4" height="4.5" fill="#5ec4d9"/><rect x="697.5" y="278.8" width="9.6" height="6.7" fill="#d3ece6"/><rect x="698.6" y="279.9" width="7.4" height="4.5" fill="#5ec4d9"/><rect x="709.1" y="276.7" width="9.6" height="6.7" fill="#d3ece6"/><rect x="710.2" y="277.8" width="7.4" height="4.5" fill="#5ec4d9"/><rect x="719.9" y="274.7" width="9.6" height="6.7" fill="#d3ece6"/><rect x="721.0" y="275.8" width="7.4" height="4.5" fill="#5ec4d9"/><rect x="664.7" y="293.6" width="9.6" height="6.7" fill="#d3ece6"/><rect x="665.8" y="294.7" width="7.4" height="4.5" fill="#5ec4d9"/><rect x="675.1" y="291.7" width="9.6" height="6.7" fill="#d3ece6"/><rect x="676.2" y="292.8" width="7.4" height="4.5" fill="#5ec4d9"/><rect x="686.3" y="289.7" width="9.6" height="6.7" fill="#d3ece6"/><rect x="687.4" y="290.8" width="7.4" height="4.5" fill="#5ec4d9"/><rect x="697.5" y="287.7" width="9.6" height="6.7" fill="#d3ece6"/><rect x="698.6" y="288.8" width="7.4" height="4.5" fill="#5ec4d9"/><rect x="709.1" y="285.6" width="9.6" height="6.7" fill="#d3ece6"/><rect x="710.2" y="286.7" width="7.4" height="4.5" fill="#5ec4d9"/><rect x="719.9" y="283.6" width="9.6" height="6.7" fill="#d3ece6"/><rect x="721.0" y="284.7" width="7.4" height="4.5" fill="#5ec4d9"/><rect x="664.7" y="302.5" width="9.6" height="6.7" fill="#d3ece6"/><rect x="665.8" y="303.6" width="7.4" height="4.5" fill="#5ec4d9"/><rect x="675.1" y="300.6" width="9.6" height="6.7" fill="#d3ece6"/><rect x="676.2" y="301.7" width="7.4" height="4.5" fill="#5ec4d9"/><rect x="686.3" y="298.6" width="9.6" height="6.7" fill="#d3ece6"/><rect x="687.4" y="299.7" width="7.4" height="4.5" fill="#5ec4d9"/><rect x="697.5" y="296.6" width="9.6" height="6.7" fill="#d3ece6"/><rect x="698.6" y="297.7" width="7.4" height="4.5" fill="#5ec4d9"/><rect x="709.1" y="294.5" width="9.6" height="6.7" fill="#d3ece6"/><rect x="710.2" y="295.6" width="7.4" height="4.5" fill="#5ec4d9"/><rect x="719.9" y="292.5" width="9.6" height="6.7" fill="#d3ece6"/><rect x="721.0" y="293.6" width="7.4" height="4.5" fill="#5ec4d9"/><rect x="664.7" y="311.4" width="9.6" height="6.7" fill="#d3ece6"/><rect x="665.8" y="312.5" width="7.4" height="4.5" fill="#5ec4d9"/><rect x="675.1" y="309.5" width="9.6" height="6.7" fill="#d3ece6"/><rect x="676.2" y="310.6" width="7.4" height="4.5" fill="#5ec4d9"/><rect x="686.3" y="307.5" width="9.6" height="6.7" fill="#d3ece6"/><rect x="687.4" y="308.6" width="7.4" height="4.5" fill="#5ec4d9"/><rect x="697.5" y="305.5" width="9.6" height="6.7" fill="#d3ece6"/><rect x="698.6" y="306.6" width="7.4" height="4.5" fill="#5ec4d9"/><rect x="709.1" y="303.4" width="9.6" height="6.7" fill="#d3ece6"/><rect x="710.2" y="304.5" width="7.4" height="4.5" fill="#5ec4d9"/><rect x="719.9" y="301.4" width="9.6" height="6.7" fill="#d3ece6"/><rect x="721.0" y="302.5" width="7.4" height="4.5" fill="#5ec4d9"/><rect x="664.7" y="320.3" width="9.6" height="6.7" fill="#d3ece6"/><rect x="665.8" y="321.4" width="7.4" height="4.5" fill="#5ec4d9"/><rect x="675.1" y="318.4" width="9.6" height="6.7" fill="#d3ece6"/><rect x="676.2" y="319.5" width="7.4" height="4.5" fill="#5ec4d9"/><rect x="686.3" y="316.4" width="9.6" height="6.7" fill="#d3ece6"/><rect x="687.4" y="317.5" width="7.4" height="4.5" fill="#5ec4d9"/><rect x="697.5" y="314.4" width="9.6" height="6.7" fill="#d3ece6"/><rect x="698.6" y="315.5" width="7.4" height="4.5" fill="#5ec4d9"/><rect x="709.1" y="312.3" width="9.6" height="6.7" fill="#d3ece6"/><rect x="710.2" y="313.4" width="7.4" height="4.5" fill="#5ec4d9"/><rect x="719.9" y="310.3" width="9.6" height="6.7" fill="#d3ece6"/><rect x="721.0" y="311.4" width="7.4" height="4.5" fill="#5ec4d9"/><rect x="664.7" y="329.2" width="9.6" height="6.7" fill="#d3ece6"/><rect x="665.8" y="330.3" width="7.4" height="4.5" fill="#5ec4d9"/><rect x="675.1" y="327.3" width="9.6" height="6.7" fill="#d3ece6"/><rect x="676.2" y="328.4" width="7.4" height="4.5" fill="#5ec4d9"/><rect x="686.3" y="325.3" width="9.6" height="6.7" fill="#d3ece6"/><rect x="687.4" y="326.4" width="7.4" height="4.5" fill="#5ec4d9"/><rect x="697.5" y="323.3" width="9.6" height="6.7" fill="#d3ece6"/><rect x="698.6" y="324.4" width="7.4" height="4.5" fill="#5ec4d9"/><rect x="709.1" y="321.2" width="9.6" height="6.7" fill="#d3ece6"/><rect x="710.2" y="322.3" width="7.4" height="4.5" fill="#5ec4d9"/><rect x="719.9" y="319.2" width="9.6" height="6.7" fill="#d3ece6"/><rect x="721.0" y="320.3" width="7.4" height="4.5" fill="#5ec4d9"/><rect x="664.7" y="338.1" width="9.6" height="6.7" fill="#d3ece6"/><rect x="665.8" y="339.2" width="7.4" height="4.5" fill="#5ec4d9"/><rect x="675.1" y="336.2" width="9.6" height="6.7" fill="#d3ece6"/><rect x="676.2" y="337.3" width="7.4" height="4.5" fill="#5ec4d9"/><rect x="686.3" y="334.2" width="9.6" height="6.7" fill="#d3ece6"/><rect x="687.4" y="335.3" width="7.4" height="4.5" fill="#5ec4d9"/><rect x="697.5" y="332.2" width="9.6" height="6.7" fill="#d3ece6"/><rect x="698.6" y="333.3" width="7.4" height="4.5" fill="#5ec4d9"/><rect x="709.1" y="330.1" width="9.6" height="6.7" fill="#d3ece6"/><rect x="710.2" y="331.2" width="7.4" height="4.5" fill="#5ec4d9"/><rect x="719.9" y="328.1" width="9.6" height="6.7" fill="#d3ece6"/><rect x="721.0" y="329.2" width="7.4" height="4.5" fill="#5ec4d9"/><rect x="664.7" y="347.0" width="9.6" height="6.7" fill="#d3ece6"/><rect x="665.8" y="348.1" width="7.4" height="4.5" fill="#5ec4d9"/><rect x="675.1" y="345.1" width="9.6" height="6.7" fill="#d3ece6"/><rect x="676.2" y="346.2" width="7.4" height="4.5" fill="#5ec4d9"/><rect x="686.3" y="343.1" width="9.6" height="6.7" fill="#d3ece6"/><rect x="687.4" y="344.2" width="7.4" height="4.5" fill="#5ec4d9"/><rect x="697.5" y="341.1" width="9.6" height="6.7" fill="#d3ece6"/><rect x="698.6" y="342.2" width="7.4" height="4.5" fill="#5ec4d9"/><rect x="709.1" y="339.0" width="9.6" height="6.7" fill="#d3ece6"/><rect x="710.2" y="340.1" width="7.4" height="4.5" fill="#5ec4d9"/><rect x="719.9" y="337.0" width="9.6" height="6.7" fill="#d3ece6"/><rect x="721.0" y="338.1" width="7.4" height="4.5" fill="#5ec4d9"/></g>
<polygon points="729.3,53.3 755.8,58.0 755.8,362.0 729.3,362.0" fill="#f2f0da"/>
<g clip-path="url(#c4)"><polygon points="733.0,65.0 752.0,66.1 752.0,70.1 733.0,69.0" fill="#74c4d6"/><polygon points="733.0,74.6 752.0,75.7 752.0,79.7 733.0,78.6" fill="#74c4d6"/><polygon points="733.0,84.2 752.0,85.3 752.0,89.3 733.0,88.2" fill="#74c4d6"/><polygon points="733.0,93.8 752.0,94.9 752.0,98.9 733.0,97.8" fill="#74c4d6"/><polygon points="733.0,103.4 752.0,104.5 752.0,108.5 733.0,107.4" fill="#74c4d6"/><polygon points="733.0,113.0 752.0,114.1 752.0,118.1 733.0,117.0" fill="#74c4d6"/><polygon points="733.0,122.6 752.0,123.7 752.0,127.7 733.0,126.6" fill="#74c4d6"/><polygon points="733.0,132.2 752.0,133.3 752.0,137.3 733.0,136.2" fill="#74c4d6"/><polygon points="733.0,141.8 752.0,142.9 752.0,146.9 733.0,145.8" fill="#74c4d6"/><polygon points="733.0,151.4 752.0,152.5 752.0,156.5 733.0,155.4" fill="#74c4d6"/><polygon points="733.0,161.0 752.0,162.1 752.0,166.1 733.0,165.0" fill="#74c4d6"/><polygon points="733.0,170.6 752.0,171.7 752.0,175.7 733.0,174.6" fill="#74c4d6"/><polygon points="733.0,180.2 752.0,181.3 752.0,185.3 733.0,184.2" fill="#74c4d6"/><polygon points="733.0,189.8 752.0,190.9 752.0,194.9 733.0,193.8" fill="#74c4d6"/><polygon points="733.0,199.4 752.0,200.5 752.0,204.5 733.0,203.4" fill="#74c4d6"/><polygon points="733.0,209.0 752.0,210.1 752.0,214.1 733.0,213.0" fill="#74c4d6"/><polygon points="733.0,218.6 752.0,219.7 752.0,223.7 733.0,222.6" fill="#74c4d6"/><polygon points="733.0,228.2 752.0,229.3 752.0,233.3 733.0,232.2" fill="#74c4d6"/><polygon points="733.0,237.8 752.0,238.9 752.0,242.9 733.0,241.8" fill="#74c4d6"/><polygon points="733.0,247.4 752.0,248.5 752.0,252.5 733.0,251.4" fill="#74c4d6"/><polygon points="733.0,257.0 752.0,258.1 752.0,262.1 733.0,261.0" fill="#74c4d6"/><polygon points="733.0,266.6 752.0,267.7 752.0,271.7 733.0,270.6" fill="#74c4d6"/><polygon points="733.0,276.2 752.0,277.3 752.0,281.3 733.0,280.2" fill="#74c4d6"/><polygon points="733.0,285.8 752.0,286.9 752.0,290.9 733.0,289.8" fill="#74c4d6"/><polygon points="733.0,295.4 752.0,296.5 752.0,300.5 733.0,299.4" fill="#74c4d6"/><polygon points="733.0,305.0 752.0,306.1 752.0,310.1 733.0,309.0" fill="#74c4d6"/><polygon points="733.0,314.6 752.0,315.7 752.0,319.7 733.0,318.6" fill="#74c4d6"/><polygon points="733.0,324.2 752.0,325.3 752.0,329.3 733.0,328.2" fill="#74c4d6"/><polygon points="733.0,333.8 752.0,334.9 752.0,338.9 733.0,337.8" fill="#74c4d6"/><polygon points="733.0,343.4 752.0,344.5 752.0,348.5 733.0,347.4" fill="#74c4d6"/></g>
<polygon points="599.5,167.0 634.6,160.0 634.6,362.0 599.5,362.0" fill="#dcebee"/>
<g clip-path="url(#c5)"><polygon points="602.5,172.0 617.0,169.4 617.0,171.8 602.5,174.4" fill="#9ed3df"/><polygon points="602.5,178.3 617.0,175.7 617.0,178.1 602.5,180.7" fill="#9ed3df"/><polygon points="602.5,184.6 617.0,182.0 617.0,184.4 602.5,187.0" fill="#9ed3df"/><polygon points="602.5,190.9 617.0,188.3 617.0,190.7 602.5,193.3" fill="#9ed3df"/><polygon points="602.5,197.2 617.0,194.6 617.0,197.0 602.5,199.6" fill="#9ed3df"/><polygon points="602.5,203.5 617.0,200.9 617.0,203.3 602.5,205.9" fill="#9ed3df"/><polygon points="602.5,209.8 617.0,207.2 617.0,209.6 602.5,212.2" fill="#9ed3df"/><polygon points="602.5,216.1 617.0,213.5 617.0,215.9 602.5,218.5" fill="#9ed3df"/><polygon points="602.5,222.4 617.0,219.8 617.0,222.2 602.5,224.8" fill="#9ed3df"/><polygon points="602.5,228.7 617.0,226.1 617.0,228.5 602.5,231.1" fill="#9ed3df"/><polygon points="602.5,235.0 617.0,232.4 617.0,234.8 602.5,237.4" fill="#9ed3df"/><polygon points="602.5,241.3 617.0,238.7 617.0,241.1 602.5,243.7" fill="#9ed3df"/><polygon points="602.5,247.6 617.0,245.0 617.0,247.4 602.5,250.0" fill="#9ed3df"/><polygon points="602.5,253.9 617.0,251.3 617.0,253.7 602.5,256.3" fill="#9ed3df"/><polygon points="602.5,260.2 617.0,257.6 617.0,260.0 602.5,262.6" fill="#9ed3df"/><polygon points="602.5,266.5 617.0,263.9 617.0,266.3 602.5,268.9" fill="#9ed3df"/><polygon points="602.5,272.8 617.0,270.2 617.0,272.6 602.5,275.2" fill="#9ed3df"/><polygon points="602.5,279.1 617.0,276.5 617.0,278.9 602.5,281.5" fill="#9ed3df"/><polygon points="602.5,285.4 617.0,282.8 617.0,285.2 602.5,287.8" fill="#9ed3df"/><polygon points="602.5,291.7 617.0,289.1 617.0,291.5 602.5,294.1" fill="#9ed3df"/><polygon points="602.5,298.0 617.0,295.4 617.0,297.8 602.5,300.4" fill="#9ed3df"/><polygon points="602.5,304.3 617.0,301.7 617.0,304.1 602.5,306.7" fill="#9ed3df"/><polygon points="602.5,310.6 617.0,308.0 617.0,310.4 602.5,313.0" fill="#9ed3df"/><polygon points="602.5,316.9 617.0,314.3 617.0,316.7 602.5,319.3" fill="#9ed3df"/><polygon points="602.5,323.2 617.0,320.6 617.0,323.0 602.5,325.6" fill="#9ed3df"/><polygon points="602.5,329.5 617.0,326.9 617.0,329.3 602.5,331.9" fill="#9ed3df"/><polygon points="602.5,335.8 617.0,333.2 617.0,335.6 602.5,338.2" fill="#9ed3df"/><polygon points="602.5,342.1 617.0,339.5 617.0,341.9 602.5,344.5" fill="#9ed3df"/><polygon points="602.5,348.4 617.0,345.8 617.0,348.2 602.5,350.8" fill="#9ed3df"/><polygon points="602.5,354.7 617.0,352.1 617.0,354.5 602.5,357.1" fill="#9ed3df"/><polygon points="602.5,361.0 617.0,358.4 617.0,360.8 602.5,363.4" fill="#9ed3df"/><polygon points="602.5,367.3 617.0,364.7 617.0,367.1 602.5,369.7" fill="#9ed3df"/><polygon points="619.0,169.5 632.5,167.1 632.5,169.5 619.0,171.9" fill="#9ed3df"/><polygon points="619.0,175.8 632.5,173.4 632.5,175.8 619.0,178.2" fill="#9ed3df"/><polygon points="619.0,182.1 632.5,179.7 632.5,182.1 619.0,184.5" fill="#9ed3df"/><polygon points="619.0,188.4 632.5,186.0 632.5,188.4 619.0,190.8" fill="#9ed3df"/><polygon points="619.0,194.7 632.5,192.3 632.5,194.7 619.0,197.1" fill="#9ed3df"/><polygon points="619.0,201.0 632.5,198.6 632.5,201.0 619.0,203.4" fill="#9ed3df"/><polygon points="619.0,207.3 632.5,204.9 632.5,207.3 619.0,209.7" fill="#9ed3df"/><polygon points="619.0,213.6 632.5,211.2 632.5,213.6 619.0,216.0" fill="#9ed3df"/><polygon points="619.0,219.9 632.5,217.5 632.5,219.9 619.0,222.3" fill="#9ed3df"/><polygon points="619.0,226.2 632.5,223.8 632.5,226.2 619.0,228.6" fill="#9ed3df"/><polygon points="619.0,232.5 632.5,230.1 632.5,232.5 619.0,234.9" fill="#9ed3df"/><polygon points="619.0,238.8 632.5,236.4 632.5,238.8 619.0,241.2" fill="#9ed3df"/><polygon points="619.0,245.1 632.5,242.7 632.5,245.1 619.0,247.5" fill="#9ed3df"/><polygon points="619.0,251.4 632.5,249.0 632.5,251.4 619.0,253.8" fill="#9ed3df"/><polygon points="619.0,257.7 632.5,255.3 632.5,257.7 619.0,260.1" fill="#9ed3df"/><polygon points="619.0,264.0 632.5,261.6 632.5,264.0 619.0,266.4" fill="#9ed3df"/><polygon points="619.0,270.3 632.5,267.9 632.5,270.3 619.0,272.7" fill="#9ed3df"/><polygon points="619.0,276.6 632.5,274.2 632.5,276.6 619.0,279.0" fill="#9ed3df"/><polygon points="619.0,282.9 632.5,280.5 632.5,282.9 619.0,285.3" fill="#9ed3df"/><polygon points="619.0,289.2 632.5,286.8 632.5,289.2 619.0,291.6" fill="#9ed3df"/><polygon points="619.0,295.5 632.5,293.1 632.5,295.5 619.0,297.9" fill="#9ed3df"/><polygon points="619.0,301.8 632.5,299.4 632.5,301.8 619.0,304.2" fill="#9ed3df"/><polygon points="619.0,308.1 632.5,305.7 632.5,308.1 619.0,310.5" fill="#9ed3df"/><polygon points="619.0,314.4 632.5,312.0 632.5,314.4 619.0,316.8" fill="#9ed3df"/><polygon points="619.0,320.7 632.5,318.3 632.5,320.7 619.0,323.1" fill="#9ed3df"/><polygon points="619.0,327.0 632.5,324.6 632.5,327.0 619.0,329.4" fill="#9ed3df"/><polygon points="619.0,333.3 632.5,330.9 632.5,333.3 619.0,335.7" fill="#9ed3df"/><polygon points="619.0,339.6 632.5,337.2 632.5,339.6 619.0,342.0" fill="#9ed3df"/><polygon points="619.0,345.9 632.5,343.5 632.5,345.9 619.0,348.3" fill="#9ed3df"/><polygon points="619.0,352.2 632.5,349.8 632.5,352.2 619.0,354.6" fill="#9ed3df"/><polygon points="619.0,358.5 632.5,356.1 632.5,358.5 619.0,360.9" fill="#9ed3df"/><polygon points="619.0,364.8 632.5,362.4 632.5,364.8 619.0,367.2" fill="#9ed3df"/></g>
<polygon points="634.6,160.0 673.0,166.0 673.0,362.0 634.6,362.0" fill="#e9f3e7"/>
<g clip-path="url(#c6)"><polygon points="634.0,164.0 673.0,170.2 673.0,173.2 634.0,167.0" fill="#3eaab4"/><polygon points="634.0,170.2 673.0,176.4 673.0,179.4 634.0,173.2" fill="#3eaab4"/><polygon points="634.0,176.4 673.0,182.6 673.0,185.6 634.0,179.4" fill="#3eaab4"/><polygon points="634.0,182.6 673.0,188.8 673.0,191.8 634.0,185.6" fill="#3eaab4"/><polygon points="634.0,188.8 673.0,195.0 673.0,198.0 634.0,191.8" fill="#3eaab4"/><polygon points="634.0,195.0 673.0,201.2 673.0,204.2 634.0,198.0" fill="#3eaab4"/><polygon points="634.0,201.2 673.0,207.4 673.0,210.4 634.0,204.2" fill="#3eaab4"/><polygon points="634.0,207.4 673.0,213.6 673.0,216.6 634.0,210.4" fill="#3eaab4"/><polygon points="634.0,213.6 673.0,219.8 673.0,222.8 634.0,216.6" fill="#3eaab4"/><polygon points="634.0,219.8 673.0,226.0 673.0,229.0 634.0,222.8" fill="#3eaab4"/><polygon points="634.0,226.0 673.0,232.2 673.0,235.2 634.0,229.0" fill="#3eaab4"/><polygon points="634.0,232.2 673.0,238.4 673.0,241.4 634.0,235.2" fill="#3eaab4"/><polygon points="634.0,238.4 673.0,244.6 673.0,247.6 634.0,241.4" fill="#3eaab4"/><polygon points="634.0,244.6 673.0,250.8 673.0,253.8 634.0,247.6" fill="#3eaab4"/><polygon points="634.0,250.8 673.0,257.0 673.0,260.0 634.0,253.8" fill="#3eaab4"/><polygon points="634.0,257.0 673.0,263.2 673.0,266.2 634.0,260.0" fill="#3eaab4"/><polygon points="634.0,263.2 673.0,269.4 673.0,272.4 634.0,266.2" fill="#3eaab4"/><polygon points="634.0,269.4 673.0,275.6 673.0,278.6 634.0,272.4" fill="#3eaab4"/><polygon points="634.0,275.6 673.0,281.8 673.0,284.8 634.0,278.6" fill="#3eaab4"/><polygon points="634.0,281.8 673.0,288.0 673.0,291.0 634.0,284.8" fill="#3eaab4"/><polygon points="634.0,288.0 673.0,294.2 673.0,297.2 634.0,291.0" fill="#3eaab4"/><polygon points="634.0,294.2 673.0,300.4 673.0,303.4 634.0,297.2" fill="#3eaab4"/><polygon points="634.0,300.4 673.0,306.6 673.0,309.6 634.0,303.4" fill="#3eaab4"/><polygon points="634.0,306.6 673.0,312.8 673.0,315.8 634.0,309.6" fill="#3eaab4"/><polygon points="634.0,312.8 673.0,319.0 673.0,322.0 634.0,315.8" fill="#3eaab4"/><polygon points="634.0,319.0 673.0,325.2 673.0,328.2 634.0,322.0" fill="#3eaab4"/><polygon points="634.0,325.2 673.0,331.4 673.0,334.4 634.0,328.2" fill="#3eaab4"/><polygon points="634.0,331.4 673.0,337.6 673.0,340.6 634.0,334.4" fill="#3eaab4"/><polygon points="634.0,337.6 673.0,343.8 673.0,346.8 634.0,340.6" fill="#3eaab4"/><polygon points="634.0,343.8 673.0,350.0 673.0,353.0 634.0,346.8" fill="#3eaab4"/><polygon points="634.0,350.0 673.0,356.2 673.0,359.2 634.0,353.0" fill="#3eaab4"/><polygon points="634.0,356.2 673.0,362.4 673.0,365.4 634.0,359.2" fill="#3eaab4"/><polygon points="634.0,362.4 673.0,368.6 673.0,371.6 634.0,365.4" fill="#3eaab4"/><rect x="660" y="150" width="14" height="215" fill="#1d7f8a" opacity="0.35"/></g>
<polygon points="672.3,138.5 720.4,133.6 720.4,361.5 672.3,361.5" fill="#a2bec0"/>
<g clip-path="url(#c7)"><polygon points="672.3,138.5 720.4,133.6 720.4,138.6 672.3,143.5" fill="#8e9c9e"/><polygon points="680.5,152.0 718.5,145.5 718.5,154.5 680.5,161.0" fill="#e4f2f1"/><polygon points="681.5,153.0 717.5,146.7 717.5,153.5 681.5,160.0" fill="#9ab8bb"/><rect x="682.5" y="153.5" width="5.8" height="5.6" fill="#6aa9b6"/><rect x="689.6" y="152.3" width="5.8" height="5.6" fill="#6aa9b6"/><rect x="696.7" y="151.0" width="5.8" height="5.6" fill="#6aa9b6"/><rect x="703.8" y="149.8" width="5.8" height="5.6" fill="#6aa9b6"/><rect x="710.9" y="148.6" width="5.8" height="5.6" fill="#6aa9b6"/><polygon points="680.5,168.9 718.5,162.4 718.5,171.4 680.5,177.9" fill="#e4f2f1"/><polygon points="681.5,169.9 717.5,163.6 717.5,170.4 681.5,176.9" fill="#9ab8bb"/><rect x="682.5" y="170.4" width="5.8" height="5.6" fill="#6aa9b6"/><rect x="689.6" y="169.2" width="5.8" height="5.6" fill="#6aa9b6"/><rect x="696.7" y="167.9" width="5.8" height="5.6" fill="#6aa9b6"/><rect x="703.8" y="166.7" width="5.8" height="5.6" fill="#6aa9b6"/><rect x="710.9" y="165.5" width="5.8" height="5.6" fill="#6aa9b6"/><polygon points="680.5,185.8 718.5,179.3 718.5,188.3 680.5,194.8" fill="#e4f2f1"/><polygon points="681.5,186.8 717.5,180.5 717.5,187.3 681.5,193.8" fill="#9ab8bb"/><rect x="682.5" y="187.3" width="5.8" height="5.6" fill="#6aa9b6"/><rect x="689.6" y="186.1" width="5.8" height="5.6" fill="#6aa9b6"/><rect x="696.7" y="184.8" width="5.8" height="5.6" fill="#6aa9b6"/><rect x="703.8" y="183.6" width="5.8" height="5.6" fill="#6aa9b6"/><rect x="710.9" y="182.4" width="5.8" height="5.6" fill="#6aa9b6"/><polygon points="680.5,202.7 718.5,196.2 718.5,205.2 680.5,211.7" fill="#e4f2f1"/><polygon points="681.5,203.7 717.5,197.4 717.5,204.2 681.5,210.7" fill="#9ab8bb"/><rect x="682.5" y="204.2" width="5.8" height="5.6" fill="#6aa9b6"/><rect x="689.6" y="203.0" width="5.8" height="5.6" fill="#6aa9b6"/><rect x="696.7" y="201.7" width="5.8" height="5.6" fill="#6aa9b6"/><rect x="703.8" y="200.5" width="5.8" height="5.6" fill="#6aa9b6"/><rect x="710.9" y="199.3" width="5.8" height="5.6" fill="#6aa9b6"/><polygon points="680.5,219.6 718.5,213.1 718.5,222.1 680.5,228.6" fill="#e4f2f1"/><polygon points="681.5,220.6 717.5,214.3 717.5,221.1 681.5,227.6" fill="#9ab8bb"/><rect x="682.5" y="221.1" width="5.8" height="5.6" fill="#6aa9b6"/><rect x="689.6" y="219.9" width="5.8" height="5.6" fill="#6aa9b6"/><rect x="696.7" y="218.6" width="5.8" height="5.6" fill="#6aa9b6"/><rect x="703.8" y="217.4" width="5.8" height="5.6" fill="#6aa9b6"/><rect x="710.9" y="216.2" width="5.8" height="5.6" fill="#6aa9b6"/><polygon points="680.5,236.5 718.5,230.0 718.5,239.0 680.5,245.5" fill="#e4f2f1"/><polygon points="681.5,237.5 717.5,231.2 717.5,238.0 681.5,244.5" fill="#9ab8bb"/><rect x="682.5" y="238.0" width="5.8" height="5.6" fill="#6aa9b6"/><rect x="689.6" y="236.8" width="5.8" height="5.6" fill="#6aa9b6"/><rect x="696.7" y="235.5" width="5.8" height="5.6" fill="#6aa9b6"/><rect x="703.8" y="234.3" width="5.8" height="5.6" fill="#6aa9b6"/><rect x="710.9" y="233.1" width="5.8" height="5.6" fill="#6aa9b6"/><polygon points="680.5,253.4 718.5,246.9 718.5,255.9 680.5,262.4" fill="#e4f2f1"/><polygon points="681.5,254.4 717.5,248.1 717.5,254.9 681.5,261.4" fill="#9ab8bb"/><rect x="682.5" y="254.9" width="5.8" height="5.6" fill="#6aa9b6"/><rect x="689.6" y="253.7" width="5.8" height="5.6" fill="#6aa9b6"/><rect x="696.7" y="252.4" width="5.8" height="5.6" fill="#6aa9b6"/><rect x="703.8" y="251.2" width="5.8" height="5.6" fill="#6aa9b6"/><rect x="710.9" y="250.0" width="5.8" height="5.6" fill="#6aa9b6"/><polygon points="680.5,270.3 718.5,263.8 718.5,272.8 680.5,279.3" fill="#e4f2f1"/><polygon points="681.5,271.3 717.5,265.0 717.5,271.8 681.5,278.3" fill="#9ab8bb"/><rect x="682.5" y="271.8" width="5.8" height="5.6" fill="#6aa9b6"/><rect x="689.6" y="270.6" width="5.8" height="5.6" fill="#6aa9b6"/><rect x="696.7" y="269.3" width="5.8" height="5.6" fill="#6aa9b6"/><rect x="703.8" y="268.1" width="5.8" height="5.6" fill="#6aa9b6"/><rect x="710.9" y="266.9" width="5.8" height="5.6" fill="#6aa9b6"/><polygon points="680.5,287.2 718.5,280.7 718.5,289.7 680.5,296.2" fill="#e4f2f1"/><polygon points="681.5,288.2 717.5,281.9 717.5,288.7 681.5,295.2" fill="#9ab8bb"/><rect x="682.5" y="288.7" width="5.8" height="5.6" fill="#6aa9b6"/><rect x="689.6" y="287.5" width="5.8" height="5.6" fill="#6aa9b6"/><rect x="696.7" y="286.2" width="5.8" height="5.6" fill="#6aa9b6"/><rect x="703.8" y="285.0" width="5.8" height="5.6" fill="#6aa9b6"/><rect x="710.9" y="283.8" width="5.8" height="5.6" fill="#6aa9b6"/><polygon points="680.5,304.1 718.5,297.6 718.5,306.6 680.5,313.1" fill="#e4f2f1"/><polygon points="681.5,305.1 717.5,298.8 717.5,305.6 681.5,312.1" fill="#9ab8bb"/><rect x="682.5" y="305.6" width="5.8" height="5.6" fill="#6aa9b6"/><rect x="689.6" y="304.4" width="5.8" height="5.6" fill="#6aa9b6"/><rect x="696.7" y="303.1" width="5.8" height="5.6" fill="#6aa9b6"/><rect x="703.8" y="301.9" width="5.8" height="5.6" fill="#6aa9b6"/><rect x="710.9" y="300.7" width="5.8" height="5.6" fill="#6aa9b6"/><polygon points="680.5,321.0 718.5,314.5 718.5,323.5 680.5,330.0" fill="#e4f2f1"/><polygon points="681.5,322.0 717.5,315.7 717.5,322.5 681.5,329.0" fill="#9ab8bb"/><rect x="682.5" y="322.5" width="5.8" height="5.6" fill="#6aa9b6"/><rect x="689.6" y="321.3" width="5.8" height="5.6" fill="#6aa9b6"/><rect x="696.7" y="320.0" width="5.8" height="5.6" fill="#6aa9b6"/><rect x="703.8" y="318.8" width="5.8" height="5.6" fill="#6aa9b6"/><rect x="710.9" y="317.6" width="5.8" height="5.6" fill="#6aa9b6"/><polygon points="680.5,337.9 718.5,331.4 718.5,340.4 680.5,346.9" fill="#e4f2f1"/><polygon points="681.5,338.9 717.5,332.6 717.5,339.4 681.5,345.9" fill="#9ab8bb"/><rect x="682.5" y="339.4" width="5.8" height="5.6" fill="#6aa9b6"/><rect x="689.6" y="338.2" width="5.8" height="5.6" fill="#6aa9b6"/><rect x="696.7" y="336.9" width="5.8" height="5.6" fill="#6aa9b6"/><rect x="703.8" y="335.7" width="5.8" height="5.6" fill="#6aa9b6"/><rect x="710.9" y="334.5" width="5.8" height="5.6" fill="#6aa9b6"/></g>
<polygon points="720.4,133.6 779.6,150.8 779.6,361.5 720.4,361.5" fill="#e7dbcf"/>
<g clip-path="url(#c8)"><polygon points="720.4,133.6 779.6,150.8 779.6,157 720.4,139.8" fill="#b9bebc"/><rect x="724.0" y="147.0" width="8.6" height="8.8" fill="#4f9db0"/><rect x="744.5" y="152.1" width="8.6" height="8.8" fill="#4f9db0"/><rect x="765.0" y="157.2" width="8.6" height="8.8" fill="#4f9db0"/><rect x="724.0" y="167.7" width="8.6" height="8.8" fill="#4f9db0"/><rect x="744.5" y="172.8" width="8.6" height="8.8" fill="#4f9db0"/><rect x="765.0" y="177.9" width="8.6" height="8.8" fill="#4f9db0"/><rect x="724.0" y="188.4" width="8.6" height="8.8" fill="#4f9db0"/><rect x="744.5" y="193.5" width="8.6" height="8.8" fill="#4f9db0"/><rect x="765.0" y="198.7" width="8.6" height="8.8" fill="#4f9db0"/><rect x="724.0" y="209.1" width="8.6" height="8.8" fill="#4f9db0"/><rect x="744.5" y="214.2" width="8.6" height="8.8" fill="#4f9db0"/><rect x="765.0" y="219.3" width="8.6" height="8.8" fill="#4f9db0"/><rect x="724.0" y="230.0" width="7.4" height="9.5" fill="#3f8fa3"/><rect x="732.4" y="231.8" width="7.4" height="9.5" fill="#3f8fa3"/><rect x="740.8" y="233.7" width="7.4" height="9.5" fill="#3f8fa3"/><rect x="749.2" y="235.5" width="7.4" height="9.5" fill="#3f8fa3"/><rect x="757.6" y="237.4" width="7.4" height="9.5" fill="#3f8fa3"/><rect x="766.0" y="239.2" width="7.4" height="9.5" fill="#3f8fa3"/><rect x="724.0" y="250.6" width="7.4" height="9.5" fill="#3f8fa3"/><rect x="732.4" y="252.4" width="7.4" height="9.5" fill="#3f8fa3"/><rect x="740.8" y="254.3" width="7.4" height="9.5" fill="#3f8fa3"/><rect x="749.2" y="256.1" width="7.4" height="9.5" fill="#3f8fa3"/><rect x="757.6" y="258.0" width="7.4" height="9.5" fill="#3f8fa3"/><rect x="766.0" y="259.8" width="7.4" height="9.5" fill="#3f8fa3"/><rect x="724.0" y="271.2" width="7.4" height="9.5" fill="#3f8fa3"/><rect x="732.4" y="273.0" width="7.4" height="9.5" fill="#3f8fa3"/><rect x="740.8" y="274.9" width="7.4" height="9.5" fill="#3f8fa3"/><rect x="749.2" y="276.7" width="7.4" height="9.5" fill="#3f8fa3"/><rect x="757.6" y="278.6" width="7.4" height="9.5" fill="#3f8fa3"/><rect x="766.0" y="280.4" width="7.4" height="9.5" fill="#3f8fa3"/><rect x="724.0" y="291.8" width="7.4" height="9.5" fill="#3f8fa3"/><rect x="732.4" y="293.6" width="7.4" height="9.5" fill="#3f8fa3"/><rect x="740.8" y="295.5" width="7.4" height="9.5" fill="#3f8fa3"/><rect x="749.2" y="297.3" width="7.4" height="9.5" fill="#3f8fa3"/><rect x="757.6" y="299.2" width="7.4" height="9.5" fill="#3f8fa3"/><rect x="766.0" y="301.0" width="7.4" height="9.5" fill="#3f8fa3"/><rect x="724.0" y="312.4" width="7.4" height="9.5" fill="#3f8fa3"/><rect x="732.4" y="314.2" width="7.4" height="9.5" fill="#3f8fa3"/><rect x="740.8" y="316.1" width="7.4" height="9.5" fill="#3f8fa3"/><rect x="749.2" y="317.9" width="7.4" height="9.5" fill="#3f8fa3"/><rect x="757.6" y="319.8" width="7.4" height="9.5" fill="#3f8fa3"/><rect x="766.0" y="321.6" width="7.4" height="9.5" fill="#3f8fa3"/><rect x="724.0" y="333.0" width="7.4" height="9.5" fill="#3f8fa3"/><rect x="732.4" y="334.8" width="7.4" height="9.5" fill="#3f8fa3"/><rect x="740.8" y="336.7" width="7.4" height="9.5" fill="#3f8fa3"/><rect x="749.2" y="338.5" width="7.4" height="9.5" fill="#3f8fa3"/><rect x="757.6" y="340.4" width="7.4" height="9.5" fill="#3f8fa3"/><rect x="766.0" y="342.2" width="7.4" height="9.5" fill="#3f8fa3"/></g>
<polygon points="527.0,200.6 563.5,195.5 563.5,361.5 527.0,361.5" fill="#a9c2c2"/>
<g clip-path="url(#c9)"><polygon points="527,200.6 563.5,195.5 563.5,203 527,208" fill="#a6abaa"/><rect x="529.4" y="212.9" width="7.6" height="9.0" fill="#dcefef"/><rect x="530.6" y="214.1" width="5.2" height="6.6" fill="#6aa2ab"/><rect x="539.8" y="211.6" width="7.6" height="9.0" fill="#dcefef"/><rect x="541.0" y="212.8" width="5.2" height="6.6" fill="#6aa2ab"/><rect x="554.0" y="209.9" width="7.6" height="9.0" fill="#dcefef"/><rect x="555.2" y="211.1" width="5.2" height="6.6" fill="#6aa2ab"/><rect x="529.4" y="226.6" width="7.6" height="9.0" fill="#dcefef"/><rect x="530.6" y="227.8" width="5.2" height="6.6" fill="#6aa2ab"/><rect x="539.8" y="225.4" width="7.6" height="9.0" fill="#dcefef"/><rect x="541.0" y="226.6" width="5.2" height="6.6" fill="#6aa2ab"/><rect x="554.0" y="223.7" width="7.6" height="9.0" fill="#dcefef"/><rect x="555.2" y="224.9" width="5.2" height="6.6" fill="#6aa2ab"/><rect x="529.4" y="240.4" width="7.6" height="9.0" fill="#dcefef"/><rect x="530.6" y="241.6" width="5.2" height="6.6" fill="#6aa2ab"/><rect x="539.8" y="239.1" width="7.6" height="9.0" fill="#dcefef"/><rect x="541.0" y="240.3" width="5.2" height="6.6" fill="#6aa2ab"/><rect x="554.0" y="237.4" width="7.6" height="9.0" fill="#dcefef"/><rect x="555.2" y="238.6" width="5.2" height="6.6" fill="#6aa2ab"/><rect x="529.4" y="254.1" width="7.6" height="9.0" fill="#dcefef"/><rect x="530.6" y="255.3" width="5.2" height="6.6" fill="#6aa2ab"/><rect x="539.8" y="252.9" width="7.6" height="9.0" fill="#dcefef"/><rect x="541.0" y="254.1" width="5.2" height="6.6" fill="#6aa2ab"/><rect x="554.0" y="251.2" width="7.6" height="9.0" fill="#dcefef"/><rect x="555.2" y="252.4" width="5.2" height="6.6" fill="#6aa2ab"/><rect x="529.4" y="267.9" width="7.6" height="9.0" fill="#dcefef"/><rect x="530.6" y="269.1" width="5.2" height="6.6" fill="#6aa2ab"/><rect x="539.8" y="266.6" width="7.6" height="9.0" fill="#dcefef"/><rect x="541.0" y="267.8" width="5.2" height="6.6" fill="#6aa2ab"/><rect x="554.0" y="264.9" width="7.6" height="9.0" fill="#dcefef"/><rect x="555.2" y="266.1" width="5.2" height="6.6" fill="#6aa2ab"/><rect x="529.4" y="281.6" width="7.6" height="9.0" fill="#dcefef"/><rect x="530.6" y="282.8" width="5.2" height="6.6" fill="#6aa2ab"/><rect x="539.8" y="280.4" width="7.6" height="9.0" fill="#dcefef"/><rect x="541.0" y="281.6" width="5.2" height="6.6" fill="#6aa2ab"/><rect x="554.0" y="278.7" width="7.6" height="9.0" fill="#dcefef"/><rect x="555.2" y="279.9" width="5.2" height="6.6" fill="#6aa2ab"/><rect x="529.4" y="295.4" width="7.6" height="9.0" fill="#dcefef"/><rect x="530.6" y="296.6" width="5.2" height="6.6" fill="#6aa2ab"/><rect x="539.8" y="294.1" width="7.6" height="9.0" fill="#dcefef"/><rect x="541.0" y="295.3" width="5.2" height="6.6" fill="#6aa2ab"/><rect x="554.0" y="292.4" width="7.6" height="9.0" fill="#dcefef"/><rect x="555.2" y="293.6" width="5.2" height="6.6" fill="#6aa2ab"/><rect x="529.4" y="309.1" width="7.6" height="9.0" fill="#dcefef"/><rect x="530.6" y="310.3" width="5.2" height="6.6" fill="#6aa2ab"/><rect x="539.8" y="307.9" width="7.6" height="9.0" fill="#dcefef"/><rect x="541.0" y="309.1" width="5.2" height="6.6" fill="#6aa2ab"/><rect x="554.0" y="306.2" width="7.6" height="9.0" fill="#dcefef"/><rect x="555.2" y="307.4" width="5.2" height="6.6" fill="#6aa2ab"/><rect x="529.4" y="322.9" width="7.6" height="9.0" fill="#dcefef"/><rect x="530.6" y="324.1" width="5.2" height="6.6" fill="#6aa2ab"/><rect x="539.8" y="321.6" width="7.6" height="9.0" fill="#dcefef"/><rect x="541.0" y="322.8" width="5.2" height="6.6" fill="#6aa2ab"/><rect x="554.0" y="319.9" width="7.6" height="9.0" fill="#dcefef"/><rect x="555.2" y="321.1" width="5.2" height="6.6" fill="#6aa2ab"/><rect x="529.4" y="336.6" width="7.6" height="9.0" fill="#dcefef"/><rect x="530.6" y="337.8" width="5.2" height="6.6" fill="#6aa2ab"/><rect x="539.8" y="335.4" width="7.6" height="9.0" fill="#dcefef"/><rect x="541.0" y="336.6" width="5.2" height="6.6" fill="#6aa2ab"/><rect x="554.0" y="333.7" width="7.6" height="9.0" fill="#dcefef"/><rect x="555.2" y="334.9" width="5.2" height="6.6" fill="#6aa2ab"/><rect x="529.4" y="350.4" width="7.6" height="9.0" fill="#dcefef"/><rect x="530.6" y="351.6" width="5.2" height="6.6" fill="#6aa2ab"/><rect x="539.8" y="349.1" width="7.6" height="9.0" fill="#dcefef"/><rect x="541.0" y="350.3" width="5.2" height="6.6" fill="#6aa2ab"/><rect x="554.0" y="347.4" width="7.6" height="9.0" fill="#dcefef"/><rect x="555.2" y="348.6" width="5.2" height="6.6" fill="#6aa2ab"/></g>
<polygon points="563.5,195.5 599.5,205.4 599.5,361.5 563.5,361.5" fill="#e9ddcd"/>
<g clip-path="url(#c10)"><polygon points="563.5,195.5 599.5,205.4 599.5,211 563.5,202" fill="#c7c5bd"/><rect x="567.0" y="207.5" width="7.2" height="8.0" fill="#3c8ea4"/><rect x="584.5" y="210.2" width="7.2" height="8.0" fill="#3c8ea4"/><rect x="567.0" y="224.7" width="7.2" height="8.0" fill="#3c8ea4"/><rect x="584.5" y="227.3" width="7.2" height="8.0" fill="#3c8ea4"/><rect x="567.0" y="241.9" width="7.2" height="8.0" fill="#3c8ea4"/><rect x="584.5" y="244.6" width="7.2" height="8.0" fill="#3c8ea4"/><rect x="567.0" y="259.1" width="7.2" height="8.0" fill="#3c8ea4"/><rect x="584.5" y="261.8" width="7.2" height="8.0" fill="#3c8ea4"/><rect x="567.0" y="276.3" width="7.2" height="8.0" fill="#3c8ea4"/><rect x="584.5" y="278.9" width="7.2" height="8.0" fill="#3c8ea4"/><rect x="567.0" y="293.5" width="7.2" height="8.0" fill="#3c8ea4"/><rect x="584.5" y="296.1" width="7.2" height="8.0" fill="#3c8ea4"/><rect x="567.0" y="310.7" width="7.2" height="8.0" fill="#3c8ea4"/><rect x="584.5" y="313.3" width="7.2" height="8.0" fill="#3c8ea4"/><rect x="567.0" y="327.9" width="7.2" height="8.0" fill="#3c8ea4"/><rect x="584.5" y="330.5" width="7.2" height="8.0" fill="#3c8ea4"/><rect x="567.0" y="345.1" width="7.2" height="8.0" fill="#3c8ea4"/><rect x="584.5" y="347.8" width="7.2" height="8.0" fill="#3c8ea4"/><rect x="575.6" y="278.8" width="7.0" height="8.0" fill="#3c8ea4"/><rect x="575.6" y="296.0" width="7.0" height="8.0" fill="#3c8ea4"/><rect x="575.6" y="313.2" width="7.0" height="8.0" fill="#3c8ea4"/><rect x="575.6" y="330.4" width="7.0" height="8.0" fill="#3c8ea4"/><rect x="575.6" y="347.6" width="7.0" height="8.0" fill="#3c8ea4"/></g>
<polygon points="589.0,274.5 615.5,272.0 615.5,361.0 589.0,361.0" fill="#5d9fb0"/>
<g clip-path="url(#c11)"><rect x="589" y="279.0" width="32" height="1.1" fill="#a6d3dc"/><rect x="589" y="284.7" width="32" height="1.1" fill="#a6d3dc"/><rect x="589" y="290.4" width="32" height="1.1" fill="#a6d3dc"/><rect x="589" y="296.1" width="32" height="1.1" fill="#a6d3dc"/><rect x="589" y="301.8" width="32" height="1.1" fill="#a6d3dc"/><rect x="589" y="307.5" width="32" height="1.1" fill="#a6d3dc"/><rect x="589" y="313.2" width="32" height="1.1" fill="#a6d3dc"/><rect x="589" y="318.9" width="32" height="1.1" fill="#a6d3dc"/><rect x="589" y="324.6" width="32" height="1.1" fill="#a6d3dc"/><rect x="589" y="330.3" width="32" height="1.1" fill="#a6d3dc"/><rect x="589" y="336.0" width="32" height="1.1" fill="#a6d3dc"/><rect x="589" y="341.7" width="32" height="1.1" fill="#a6d3dc"/><rect x="589" y="347.4" width="32" height="1.1" fill="#a6d3dc"/><rect x="589" y="353.1" width="32" height="1.1" fill="#a6d3dc"/><rect x="589" y="358.8" width="32" height="1.1" fill="#a6d3dc"/><rect x="592.5" y="270" width="1.0" height="92" fill="#a6d3dc"/><rect x="597.1" y="270" width="1.0" height="92" fill="#a6d3dc"/><rect x="601.7" y="270" width="1.0" height="92" fill="#a6d3dc"/><rect x="606.3" y="270" width="1.0" height="92" fill="#a6d3dc"/><rect x="610.9" y="270" width="1.0" height="92" fill="#a6d3dc"/><rect x="615.5" y="270" width="1.0" height="92" fill="#a6d3dc"/><rect x="589" y="272" width="2.2" height="90" fill="#eee8d2"/></g>
<polygon points="615.5,272.0 644.0,274.0 644.0,361.0 615.5,361.0" fill="#a9d0d8"/>
<g clip-path="url(#c12)"><rect x="615" y="279.0" width="30" height="1.2" fill="#eaf2ec"/><rect x="615" y="284.7" width="30" height="1.2" fill="#eaf2ec"/><rect x="615" y="290.4" width="30" height="1.2" fill="#eaf2ec"/><rect x="615" y="296.1" width="30" height="1.2" fill="#eaf2ec"/><rect x="615" y="301.8" width="30" height="1.2" fill="#eaf2ec"/><rect x="615" y="307.5" width="30" height="1.2" fill="#eaf2ec"/><rect x="615" y="313.2" width="30" height="1.2" fill="#eaf2ec"/><rect x="615" y="318.9" width="30" height="1.2" fill="#eaf2ec"/><rect x="615" y="324.6" width="30" height="1.2" fill="#eaf2ec"/><rect x="615" y="330.3" width="30" height="1.2" fill="#eaf2ec"/><rect x="615" y="336.0" width="30" height="1.2" fill="#eaf2ec"/><rect x="615" y="341.7" width="30" height="1.2" fill="#eaf2ec"/><rect x="615" y="347.4" width="30" height="1.2" fill="#eaf2ec"/><rect x="615" y="353.1" width="30" height="1.2" fill="#eaf2ec"/><rect x="615" y="358.8" width="30" height="1.2" fill="#eaf2ec"/><rect x="621.5" y="270" width="1.1" height="92" fill="#eaf2ec"/><rect x="626.1" y="270" width="1.1" height="92" fill="#eaf2ec"/><rect x="630.7" y="270" width="1.1" height="92" fill="#eaf2ec"/><rect x="635.3" y="270" width="1.1" height="92" fill="#eaf2ec"/><rect x="639.9" y="270" width="1.1" height="92" fill="#eaf2ec"/><rect x="614.5" y="272" width="3" height="90" fill="#efe9d3"/><rect x="642" y="272" width="2" height="90" fill="#efe9d3"/></g>
<polygon points="586.0,272.5 615.5,269.5 646.0,271.5 646.0,275.0 615.5,273.0 586.0,276.0" fill="#efe9d3"/>
<polygon points="611.9,251.8 589.0,272.3 616.0,269.0 645.0,270.8" fill="#2f6f94"/>
<polygon points="611.9,251.8 616.0,269.0 645.0,270.8" fill="#3c7a9c"/>
<rect x="526" y="360.5" width="255" height="2" fill="#e3e6d6"/>

<rect x="6.5" y="138.5" width="503" height="226" fill="#dfe9e2"/>
<rect x="7.8" y="139.8" width="500.4" height="223.4" fill="#eaf1ec"/>
<rect x="9.3" y="141" width="497" height="221" fill="#fdfdfd"/>
<rect x="10" y="141" width="496" height="37" fill="#2b6cb3"/>
<line x1="21" y1="214" x2="494" y2="214" stroke="#2a2a2a" stroke-width="2" stroke-dasharray="2.2 1.55"/>
<line x1="21" y1="245" x2="494" y2="245" stroke="#2a2a2a" stroke-width="2" stroke-dasharray="2.2 1.55"/>
<line x1="21" y1="278" x2="494" y2="278" stroke="#2a2a2a" stroke-width="2" stroke-dasharray="2.2 1.55"/>
<rect x="21" y="319.5" width="472" height="2.2" fill="#1a1a1a"/>
<rect x="7" y="485" width="777" height="42" fill="#dce8e2"/>
<rect x="10" y="488" width="771" height="37" fill="#2d6db4"/>
<rect x="10" y="488" width="169.5" height="37" fill="#0f4a86"/>
<rect x="578" y="488" width="202.5" height="37" fill="#0f4a86"/>
<rect x="10" y="525" width="771" height="2" fill="#e8eff2"/>

<text id="t1a" x="14.00" y="63.40" font-size="52.76" font-family="Liberation Sans" font-weight="bold" fill="#1d1b1b" stroke="#1d1b1b" stroke-width="2.2" stroke-linejoin="round" letter-spacing="2.5" textLength="188.00" lengthAdjust="spacingAndGlyphs">CONDOS</text>
<text id="t1b" x="211.00" y="63.40" font-size="52.76" font-family="Liberation Sans" font-weight="bold" fill="#1d1b1b" stroke="#1d1b1b" stroke-width="2.2" stroke-linejoin="round" letter-spacing="2.5" textLength="305.00" lengthAdjust="spacingAndGlyphs">TRANSFERRED</text>
<text id="t1c" x="15.00" y="122.90" font-size="52.04" font-family="Liberation Sans" font-weight="bold" fill="#1d1b1b" stroke="#1d1b1b" stroke-width="2.2" stroke-linejoin="round" letter-spacing="2.5" textLength="55.60" lengthAdjust="spacingAndGlyphs">TO</text>
<text id="t1d" x="81.80" y="122.90" font-size="52.04" font-family="Liberation Sans" font-weight="bold" fill="#1d1b1b" stroke="#1d1b1b" stroke-width="2.2" stroke-linejoin="round" letter-spacing="2.5" textLength="262.20" lengthAdjust="spacingAndGlyphs">FOREIGNERS,</text>
<text id="t1e" x="356.00" y="122.90" font-size="52.04" font-family="Liberation Sans" font-weight="bold" fill="#1d1b1b" stroke="#1d1b1b" stroke-width="2.2" stroke-linejoin="round" letter-spacing="2.5" textLength="165.00" lengthAdjust="spacingAndGlyphs">2018-20</text>
<text id="t2a" x="18.80" y="415.90" font-size="50.58" font-family="Liberation Sans" font-weight="bold" fill="#1d1b1b" stroke="#1d1b1b" stroke-width="2.2" stroke-linejoin="round" letter-spacing="2.5" textLength="84.40" lengthAdjust="spacingAndGlyphs">TOP</text>
<text id="t2b" x="111.60" y="415.90" font-size="50.58" font-family="Liberation Sans" font-weight="bold" fill="#1d1b1b" stroke="#1d1b1b" stroke-width="2.2" stroke-linejoin="round" letter-spacing="2.5" textLength="52.40" lengthAdjust="spacingAndGlyphs">10</text>
<text id="t2c" x="176.00" y="415.90" font-size="50.58" font-family="Liberation Sans" font-weight="bold" fill="#1d1b1b" stroke="#1d1b1b" stroke-width="2.2" stroke-linejoin="round" letter-spacing="2.5" textLength="318.60" lengthAdjust="spacingAndGlyphs">NATIONALITIES</text>
<text id="t2d" x="505.00" y="415.90" font-size="50.58" font-family="Liberation Sans" font-weight="bold" fill="#1d1b1b" stroke="#1d1b1b" stroke-width="2.2" stroke-linejoin="round" letter-spacing="2.5" textLength="226.80" lengthAdjust="spacingAndGlyphs">RECEIVING</text>
<text id="t2e" x="18.20" y="474.70" font-size="51.16" font-family="Liberation Sans" font-weight="bold" fill="#1d1b1b" stroke="#1d1b1b" stroke-width="2.2" stroke-linejoin="round" letter-spacing="2.5" textLength="157.80" lengthAdjust="spacingAndGlyphs">CONDO</text>
<text id="t2f" x="185.00" y="474.70" font-size="51.16" font-family="Liberation Sans" font-weight="bold" fill="#1d1b1b" stroke="#1d1b1b" stroke-width="2.2" stroke-linejoin="round" letter-spacing="2.5" textLength="252.80" lengthAdjust="spacingAndGlyphs">TRANSFERS,</text>
<text id="t2g" x="448.60" y="474.70" font-size="51.16" font-family="Liberation Sans" font-weight="bold" fill="#1d1b1b" stroke="#1d1b1b" stroke-width="2.2" stroke-linejoin="round" letter-spacing="2.5" textLength="175.60" lengthAdjust="spacingAndGlyphs">2018-20</text>
<text id="h1" x="245.40" y="170.15" font-size="21.66" font-family="Liberation Sans" font-weight="bold" fill="#ffffff" stroke="#ffffff" stroke-width="0.5" stroke-linejoin="round" textLength="43.00" lengthAdjust="spacingAndGlyphs">2018</text>
<text id="h2" x="341.20" y="170.15" font-size="21.66" font-family="Liberation Sans" font-weight="bold" fill="#ffffff" stroke="#ffffff" stroke-width="0.5" stroke-linejoin="round" textLength="44.20" lengthAdjust="spacingAndGlyphs">2019</text>
<text id="h3" x="445.00" y="170.15" font-size="21.66" font-family="Liberation Sans" font-weight="bold" fill="#ffffff" stroke="#ffffff" stroke-width="0.5" stroke-linejoin="round" textLength="45.00" lengthAdjust="spacingAndGlyphs">2020</text>
<text id="l1" x="21.20" y="204.28" font-size="22.60" font-family="Liberation Sans" font-weight="bold" fill="#1f1f1f" stroke="#1f1f1f" stroke-width="0.45" stroke-linejoin="round" textLength="68.80" lengthAdjust="spacingAndGlyphs">Number</text>
<text id="l2" x="22.00" y="236.78" font-size="22.31" font-family="Liberation Sans" font-weight="bold" fill="#1f1f1f" stroke="#1f1f1f" stroke-width="0.45" stroke-linejoin="round" textLength="177.40" lengthAdjust="spacingAndGlyphs">Year-on-year change</text>
<text id="l3" x="22.00" y="269.57" font-size="22.60" font-family="Liberation Sans" font-weight="bold" fill="#1f1f1f" stroke="#1f1f1f" stroke-width="0.45" stroke-linejoin="round" textLength="163.00" lengthAdjust="spacingAndGlyphs">Value (billion baht)</text>
<text id="l4" x="22.00" y="302.57" font-size="22.60" font-family="Liberation Sans" font-weight="bold" fill="#1f1f1f" stroke="#1f1f1f" stroke-width="0.45" stroke-linejoin="round" textLength="177.40" lengthAdjust="spacingAndGlyphs">Year-on-year change</text>
<text id="n00" x="234.80" y="204.60" font-size="23.26" font-family="Liberation Sans" font-weight="normal" fill="#383838" textLength="54.40" lengthAdjust="spacingAndGlyphs">13,568</text>
<text id="n01" x="330.40" y="204.60" font-size="23.26" font-family="Liberation Sans" font-weight="normal" fill="#383838" textLength="54.80" lengthAdjust="spacingAndGlyphs">12,798</text>
<text id="n02" x="442.60" y="204.60" font-size="23.26" font-family="Liberation Sans" font-weight="normal" fill="#383838" textLength="48.20" lengthAdjust="spacingAndGlyphs">8,285</text>
<text id="n11" x="341.20" y="237.50" font-size="23.26" font-family="Liberation Sans" font-weight="normal" fill="#c13b56" textLength="44.00" lengthAdjust="spacingAndGlyphs">-5.7%</text>
<text id="n12" x="435.00" y="237.50" font-size="23.26" font-family="Liberation Sans" font-weight="normal" fill="#c13b56" textLength="54.80" lengthAdjust="spacingAndGlyphs">-35.3%</text>
<text id="n20" x="257.80" y="270.30" font-size="23.26" font-family="Liberation Sans" font-weight="normal" fill="#383838" textLength="32.60" lengthAdjust="spacingAndGlyphs">57.3</text>
<text id="n21" x="350.00" y="270.30" font-size="23.26" font-family="Liberation Sans" font-weight="normal" fill="#383838" textLength="36.60" lengthAdjust="spacingAndGlyphs">50.6</text>
<text id="n22" x="458.60" y="270.30" font-size="23.26" font-family="Liberation Sans" font-weight="normal" fill="#383838" textLength="31.20" lengthAdjust="spacingAndGlyphs">37.7</text>
<text id="n31" x="333.80" y="303.30" font-size="23.26" font-family="Liberation Sans" font-weight="normal" fill="#c13b56" textLength="51.40" lengthAdjust="spacingAndGlyphs">-11.6%</text>
<text id="n32" x="435.00" y="303.30" font-size="23.26" font-family="Liberation Sans" font-weight="normal" fill="#c13b56" textLength="54.80" lengthAdjust="spacingAndGlyphs">-25.5%</text>
<text id="src" x="19.00" y="348.70" font-size="22.38" font-family="Liberation Sans" font-weight="normal" fill="#383838" textLength="315.00" lengthAdjust="spacingAndGlyphs">Source: Real Estate Information Center</text>
<text id="g1" x="21.00" y="517.25" font-size="23.26" font-family="Liberation Sans" font-weight="bold" fill="#ffffff" stroke="#ffffff" stroke-width="0.5" stroke-linejoin="round" textLength="99.80" lengthAdjust="spacingAndGlyphs">Nationality</text>
<text id="g2" x="229.80" y="516.75" font-size="21.37" font-family="Liberation Sans" font-weight="bold" fill="#ffffff" stroke="#ffffff" stroke-width="0.5" stroke-linejoin="round" textLength="43.20" lengthAdjust="spacingAndGlyphs">2018</text>
<text id="g3" x="354.00" y="516.75" font-size="21.37" font-family="Liberation Sans" font-weight="bold" fill="#ffffff" stroke="#ffffff" stroke-width="0.5" stroke-linejoin="round" textLength="44.00" lengthAdjust="spacingAndGlyphs">2019</text>
<text id="g4" x="491.00" y="516.75" font-size="21.37" font-family="Liberation Sans" font-weight="bold" fill="#ffffff" stroke="#ffffff" stroke-width="0.5" stroke-linejoin="round" textLength="44.20" lengthAdjust="spacingAndGlyphs">2020</text>
<text id="g5" x="600.20" y="516.75" font-size="21.37" font-family="Liberation Sans" font-weight="bold" fill="#ffffff" stroke="#ffffff" stroke-width="0.5" stroke-linejoin="round" textLength="161.00" lengthAdjust="spacingAndGlyphs">3-year proportion</text>
</svg>
</body></html>
